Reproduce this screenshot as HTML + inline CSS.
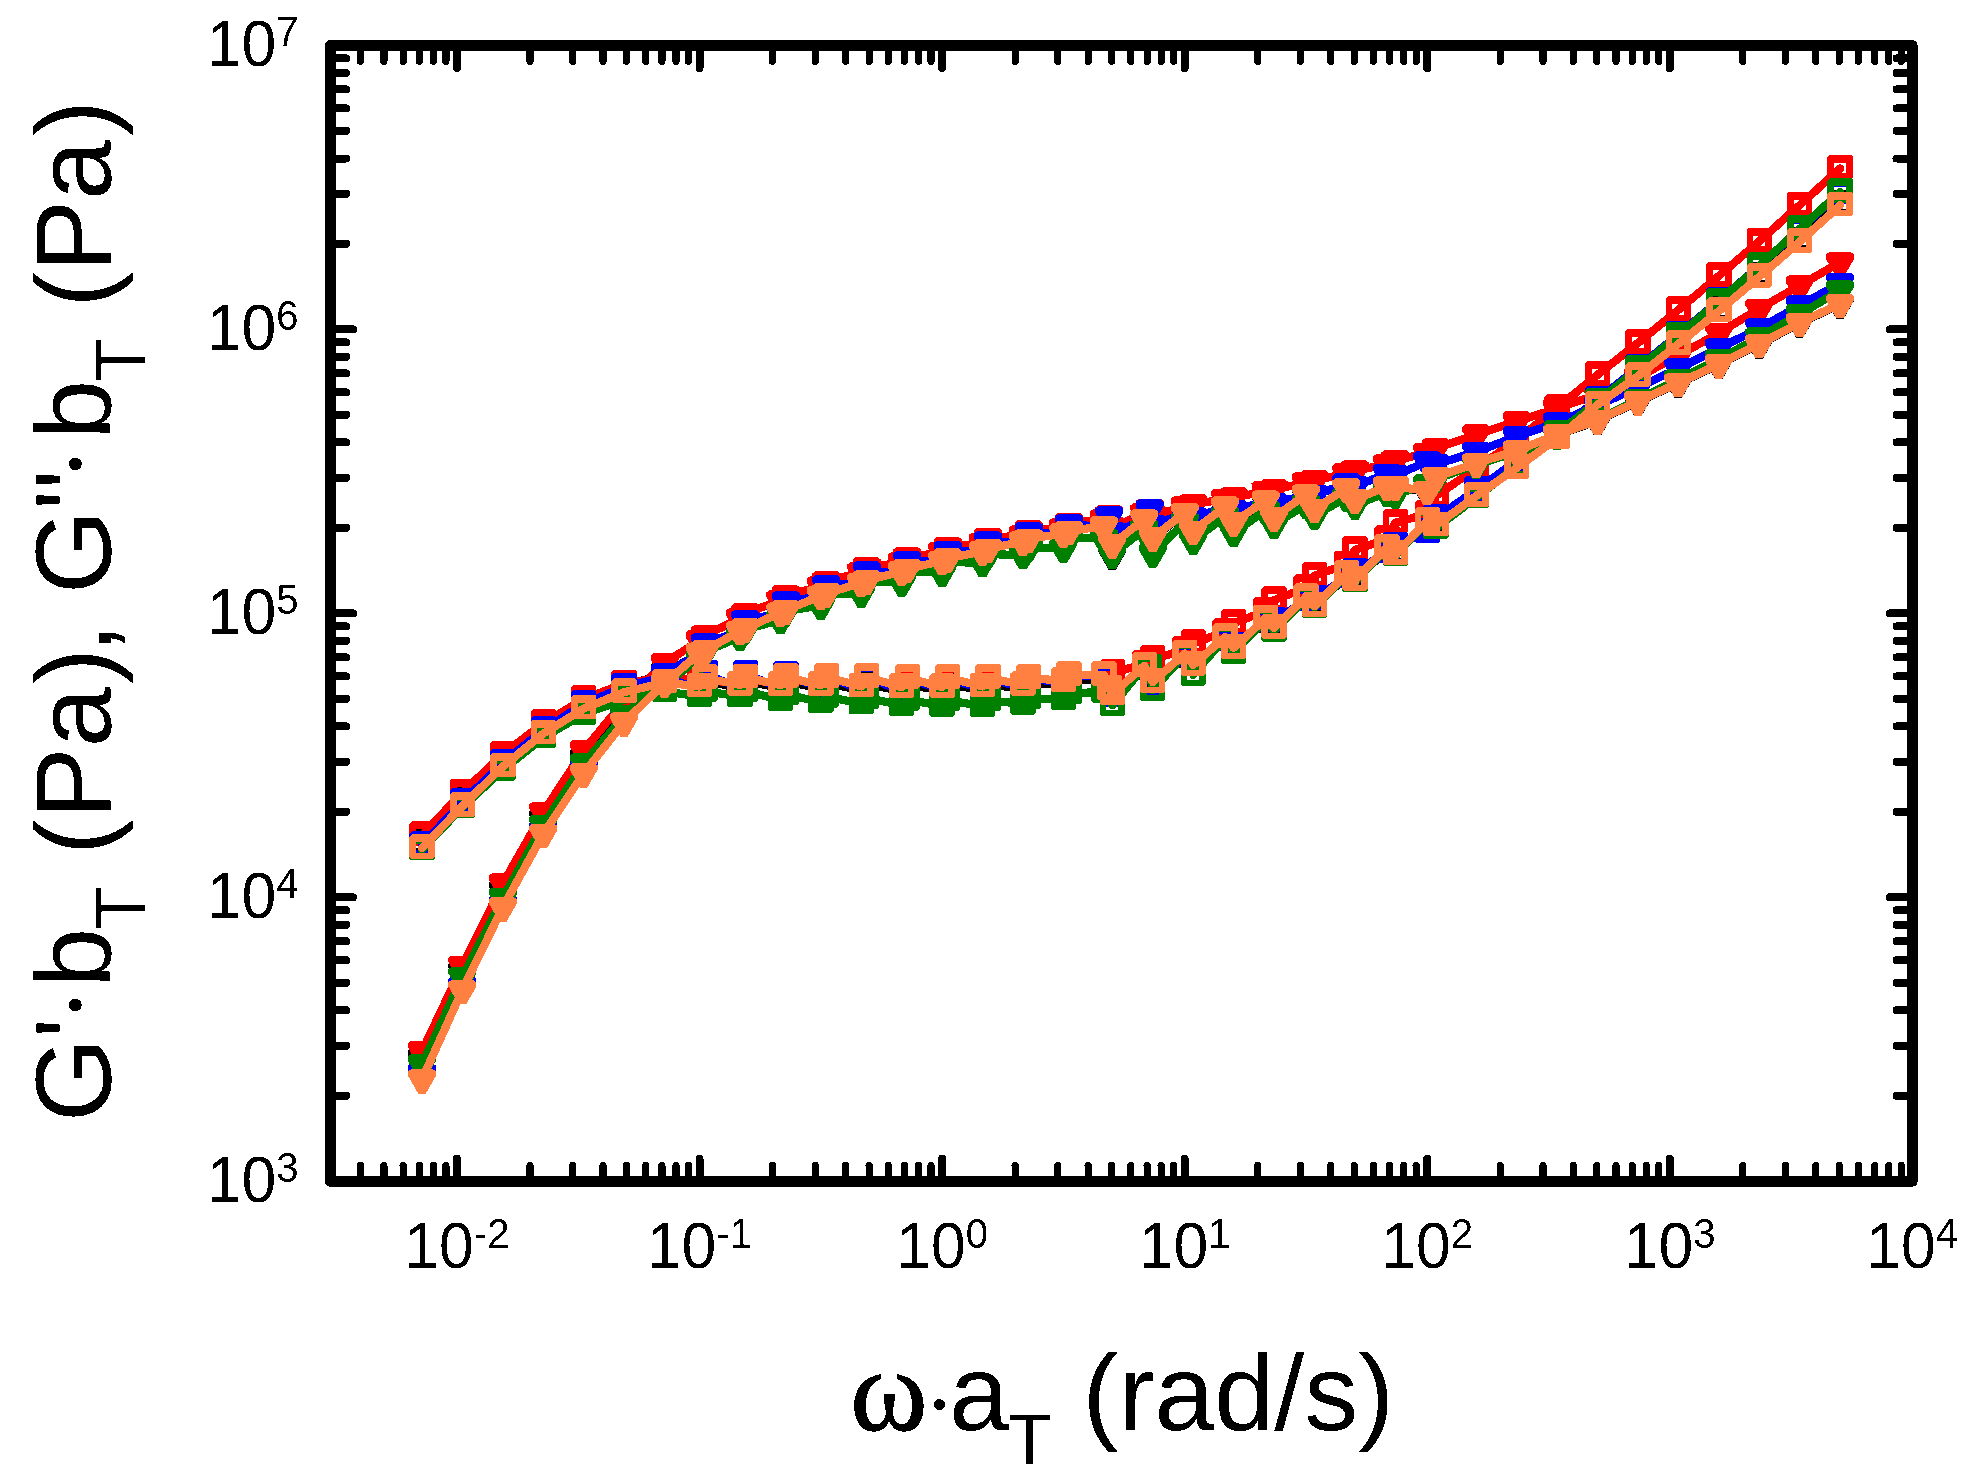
<!DOCTYPE html>
<html lang="en"><head><meta charset="utf-8"><title>Master curves</title>
<style>html,body{margin:0;padding:0;background:#fff}svg{display:block}text{font-family:"Liberation Sans",sans-serif;fill:#000}.om{font-family:"Liberation Serif",serif}</style></head><body>
<svg width="1970" height="1479" viewBox="0 0 1970 1479">
<rect width="1970" height="1479" fill="#fff"/>
<g shape-rendering="crispEdges" stroke-linejoin="round" stroke-linecap="round">
<g fill="#000000" stroke="none">
<polyline fill="none" stroke="#000000" stroke-width="8.2" points="422,843 462.4,799.9 502.9,760.8 543.3,727.9 583.7,702 624.1,684.8 664.6,675 699.5,690 705,680.4 739.9,688.5 745.4,680.4 780.4,688.5 785.9,681.5 820.8,688.6 826.3,683.5 861.2,689.9 866.7,684.5 901.7,690.7 907.2,684.5 942.1,690.7 947.6,684.5 982.5,689.9 988,684.5 1023,688.5 1028.5,684 1063.4,684.3 1068.9,681.5 1103.8,678.4 1112.3,692.7 1144.2,669.3 1152.7,680.5 1184.7,657.1 1193.2,663.4 1225.1,640.5 1233.6,646.4 1265.5,621.9 1274,626.4 1306,600.6 1314.5,604.5 1346.4,577.5 1354.9,578.3 1386.8,551.3 1395.3,552.7 1427.2,524.5 1435.8,524.1 1476.2,494.5 1516.6,466.5 1557,437 1597.5,403.3 1637.9,374.7 1678.3,342.5 1718.8,309.7 1759.2,275.3 1799.6,240.4 1840,203.8"/>
<path d="M411.9 829.2L433.1 829.2L434.7 830.8L434.7 852.2L433.1 853.8L410.9 853.8L409.3 852.2L409.3 831.8zM416.1 837.2V847.9H428V837.2zM452.3 786.1L473.5 786.1L475.1 787.7L475.1 809.1L473.5 810.7L451.3 810.7L449.7 809.1L449.7 788.7zM456.5 794.1V804.8H468.4V794.1zM492.8 747L514 747L515.6 748.6L515.6 770L514 771.6L491.8 771.6L490.2 770L490.2 749.6zM497 755V765.7H508.9V755zM533.2 714.1L554.4 714.1L556 715.7L556 737.1L554.4 738.7L532.2 738.7L530.6 737.1L530.6 716.7zM537.4 722.1V732.8H549.3V722.1zM573.6 688.2L594.8 688.2L596.4 689.8L596.4 711.2L594.8 712.8L572.6 712.8L571 711.2L571 690.8zM577.8 696.2V706.9H589.7V696.2zM614 671L635.2 671L636.9 672.6L636.9 694L635.2 695.6L613 695.6L611.4 694L611.4 673.6zM618.2 679V689.7H630.1V679zM654.5 661.2L675.7 661.2L677.3 662.8L677.3 684.2L675.7 685.8L653.5 685.8L651.9 684.2L651.9 663.8zM658.7 669.2V679.9H670.6V669.2zM689.4 676.2L710.6 676.2L712.2 677.8L712.2 699.2L710.6 700.8L688.4 700.8L686.8 699.2L686.8 678.8zM693.6 684.2V694.9H705.5V684.2zM694.9 666.6L716.1 666.6L717.7 668.2L717.7 689.6L716.1 691.2L693.9 691.2L692.3 689.6L692.3 669.2zM699.1 674.6V685.3H711V674.6zM729.8 674.7L751 674.7L752.6 676.3L752.6 697.7L751 699.3L728.8 699.3L727.2 697.7L727.2 677.3zM734 682.7V693.4H745.9V682.7zM735.3 666.6L756.5 666.6L758.1 668.2L758.1 689.6L756.5 691.2L734.3 691.2L732.7 689.6L732.7 669.2zM739.5 674.6V685.3H751.4V674.6zM770.3 674.7L791.5 674.7L793.1 676.3L793.1 697.7L791.5 699.3L769.3 699.3L767.7 697.7L767.7 677.3zM774.5 682.7V693.4H786.4V682.7zM775.8 667.7L797 667.7L798.6 669.3L798.6 690.7L797 692.3L774.8 692.3L773.2 690.7L773.2 670.3zM780 675.7V686.4H791.9V675.7zM810.7 674.8L831.9 674.8L833.5 676.4L833.5 697.8L831.9 699.4L809.7 699.4L808.1 697.8L808.1 677.4zM814.9 682.8V693.5H826.8V682.8zM816.2 669.7L837.4 669.7L839 671.3L839 692.7L837.4 694.3L815.2 694.3L813.6 692.7L813.6 672.3zM820.4 677.7V688.4H832.3V677.7zM851.1 676.1L872.3 676.1L873.9 677.7L873.9 699.1L872.3 700.7L850.1 700.7L848.5 699.1L848.5 678.7zM855.3 684.1V694.8H867.2V684.1zM856.6 670.7L877.8 670.7L879.4 672.3L879.4 693.7L877.8 695.3L855.6 695.3L854 693.7L854 673.3zM860.8 678.7V689.4H872.7V678.7zM891.6 676.9L912.8 676.9L914.4 678.5L914.4 699.9L912.8 701.5L890.6 701.5L889 699.9L889 679.5zM895.8 684.9V695.6H907.7V684.9zM897.1 670.7L918.3 670.7L919.9 672.3L919.9 693.7L918.3 695.3L896.1 695.3L894.5 693.7L894.5 673.3zM901.3 678.7V689.4H913.2V678.7zM932 676.9L953.2 676.9L954.8 678.5L954.8 699.9L953.2 701.5L931 701.5L929.4 699.9L929.4 679.5zM936.2 684.9V695.6H948.1V684.9zM937.5 670.7L958.7 670.7L960.3 672.3L960.3 693.7L958.7 695.3L936.5 695.3L934.9 693.7L934.9 673.3zM941.7 678.7V689.4H953.6V678.7zM972.4 676.1L993.6 676.1L995.2 677.7L995.2 699.1L993.6 700.7L971.4 700.7L969.8 699.1L969.8 678.7zM976.6 684.1V694.8H988.5V684.1zM977.9 670.7L999.1 670.7L1000.7 672.3L1000.7 693.7L999.1 695.3L976.9 695.3L975.3 693.7L975.3 673.3zM982.1 678.7V689.4H994V678.7zM1012.9 674.7L1034.1 674.7L1035.7 676.3L1035.7 697.7L1034.1 699.3L1011.9 699.3L1010.2 697.7L1010.2 677.3zM1017 682.7V693.4H1029V682.7zM1018.4 670.2L1039.6 670.2L1041.2 671.8L1041.2 693.2L1039.6 694.8L1017.4 694.8L1015.8 693.2L1015.8 672.8zM1022.5 678.2V688.9H1034.5V678.2zM1053.3 670.5L1074.5 670.5L1076.1 672.1L1076.1 693.5L1074.5 695.1L1052.3 695.1L1050.7 693.5L1050.7 673.1zM1057.5 678.5V689.2H1069.4V678.5zM1058.8 667.7L1080 667.7L1081.6 669.3L1081.6 690.7L1080 692.3L1057.8 692.3L1056.2 690.7L1056.2 670.3zM1063 675.7V686.4H1074.9V675.7zM1093.7 664.6L1114.9 664.6L1116.5 666.2L1116.5 687.6L1114.9 689.2L1092.7 689.2L1091.1 687.6L1091.1 667.2zM1097.9 672.6V683.3H1109.8V672.6zM1102.2 678.9L1123.4 678.9L1125 680.5L1125 701.9L1123.4 703.5L1101.2 703.5L1099.6 701.9L1099.6 681.5zM1106.4 686.9V697.6H1118.3V686.9zM1134.1 655.5L1155.3 655.5L1156.9 657.1L1156.9 678.5L1155.3 680.1L1133.1 680.1L1131.5 678.5L1131.5 658.1zM1138.3 663.5V674.2H1150.2V663.5zM1142.6 666.7L1163.8 666.7L1165.4 668.3L1165.4 689.7L1163.8 691.3L1141.6 691.3L1140 689.7L1140 669.3zM1146.8 674.7V685.4H1158.7V674.7zM1174.6 643.3L1195.8 643.3L1197.4 644.9L1197.4 666.3L1195.8 667.9L1173.6 667.9L1172 666.3L1172 645.9zM1178.8 651.3V662H1190.7V651.3zM1183.1 649.6L1204.3 649.6L1205.9 651.2L1205.9 672.6L1204.3 674.2L1182.1 674.2L1180.5 672.6L1180.5 652.2zM1187.3 657.6V668.3H1199.2V657.6zM1215 626.7L1236.2 626.7L1237.8 628.3L1237.8 649.7L1236.2 651.3L1214 651.3L1212.4 649.7L1212.4 629.3zM1219.2 634.7V645.4H1231.1V634.7zM1223.5 632.6L1244.7 632.6L1246.3 634.2L1246.3 655.6L1244.7 657.2L1222.5 657.2L1220.9 655.6L1220.9 635.2zM1227.7 640.6V651.3H1239.6V640.6zM1255.4 608.1L1276.6 608.1L1278.2 609.7L1278.2 631.1L1276.6 632.7L1254.4 632.7L1252.8 631.1L1252.8 610.7zM1259.6 616.1V626.8H1271.5V616.1zM1263.9 612.6L1285.1 612.6L1286.7 614.2L1286.7 635.6L1285.1 637.2L1262.9 637.2L1261.3 635.6L1261.3 615.2zM1268.1 620.6V631.3H1280V620.6zM1295.9 586.8L1317.1 586.8L1318.7 588.4L1318.7 609.8L1317.1 611.4L1294.9 611.4L1293.3 609.8L1293.3 589.4zM1300.1 594.8V605.5H1312V594.8zM1304.4 590.7L1325.6 590.7L1327.2 592.3L1327.2 613.7L1325.6 615.3L1303.4 615.3L1301.8 613.7L1301.8 593.3zM1308.6 598.7V609.4H1320.5V598.7zM1336.3 563.7L1357.5 563.7L1359.1 565.3L1359.1 586.7L1357.5 588.3L1335.3 588.3L1333.7 586.7L1333.7 566.3zM1340.5 571.7V582.4H1352.4V571.7zM1344.8 564.5L1366 564.5L1367.6 566.1L1367.6 587.5L1366 589.1L1343.8 589.1L1342.2 587.5L1342.2 567.1zM1349 572.5V583.2H1360.9V572.5zM1376.7 537.5L1397.9 537.5L1399.5 539.1L1399.5 560.5L1397.9 562.1L1375.7 562.1L1374.1 560.5L1374.1 540.1zM1380.9 545.5V556.2H1392.8V545.5zM1385.2 538.9L1406.4 538.9L1408 540.5L1408 561.9L1406.4 563.5L1384.2 563.5L1382.6 561.9L1382.6 541.5zM1389.4 546.9V557.6H1401.3V546.9zM1417.1 510.7L1438.4 510.7L1440 512.3L1440 533.7L1438.4 535.3L1416.1 535.3L1414.5 533.7L1414.5 513.3zM1421.3 518.7V529.4H1433.2V518.7zM1425.6 510.3L1446.9 510.3L1448.5 511.9L1448.5 533.3L1446.9 534.9L1424.6 534.9L1423 533.3L1423 512.9zM1429.8 518.3V529H1441.8V518.3zM1466.1 480.7L1487.3 480.7L1488.9 482.3L1488.9 503.7L1487.3 505.3L1465.1 505.3L1463.5 503.7L1463.5 483.3zM1470.3 488.7V499.4H1482.2V488.7zM1506.5 452.7L1527.7 452.7L1529.3 454.3L1529.3 475.7L1527.7 477.3L1505.5 477.3L1503.9 475.7L1503.9 455.3zM1510.7 460.7V471.4H1522.6V460.7zM1546.9 423.2L1568.1 423.2L1569.7 424.8L1569.7 446.2L1568.1 447.8L1545.9 447.8L1544.3 446.2L1544.3 425.8zM1551.1 431.2V441.9H1563V431.2zM1587.4 389.5L1608.6 389.5L1610.2 391.1L1610.2 412.5L1608.6 414.1L1586.4 414.1L1584.8 412.5L1584.8 392.1zM1591.6 397.5V408.2H1603.5V397.5zM1627.8 360.9L1649 360.9L1650.6 362.5L1650.6 383.9L1649 385.5L1626.8 385.5L1625.2 383.9L1625.2 363.5zM1632 368.9V379.6H1643.9V368.9zM1668.2 328.7L1689.4 328.7L1691 330.3L1691 351.7L1689.4 353.3L1667.2 353.3L1665.6 351.7L1665.6 331.3zM1672.4 336.7V347.4H1684.3V336.7zM1708.7 295.9L1729.9 295.9L1731.5 297.5L1731.5 318.9L1729.9 320.5L1707.7 320.5L1706.1 318.9L1706.1 298.5zM1712.9 303.9V314.6H1724.8V303.9zM1749.1 261.5L1770.3 261.5L1771.9 263.1L1771.9 284.5L1770.3 286.1L1748.1 286.1L1746.5 284.5L1746.5 264.1zM1753.3 269.5V280.2H1765.2V269.5zM1789.5 226.6L1810.7 226.6L1812.3 228.2L1812.3 249.6L1810.7 251.2L1788.5 251.2L1786.9 249.6L1786.9 229.2zM1793.7 234.6V245.3H1805.6V234.6zM1829.9 190L1851.2 190L1852.8 191.6L1852.8 213L1851.2 214.6L1828.9 214.6L1827.3 213L1827.3 192.6zM1834.1 198V208.7H1846V198z"/>
<polyline fill="none" stroke="#000000" stroke-width="8.2" points="422,1058.5 462.4,971.9 502.9,890.5 543.3,819.5 583.7,758.7 624.1,708.5 664.6,672.5 699.5,654.1 705,647.5 739.9,632 745.4,624.5 780.4,613.7 785.9,606.5 820.8,596.9 826.3,590.5 861.2,584 866.7,577.5 901.7,572.4 907.2,566.5 942.1,562 947.6,556.5 982.5,552.3 988,546.5 1023,542.5 1028.5,537.5 1063.4,534.5 1068.9,529.5 1103.8,527.2 1112.3,555.4 1144.2,520.5 1152.7,538 1184.7,513.8 1193.2,531.3 1225.1,507.7 1233.6,522.8 1265.5,501.6 1274,517.9 1306,495.5 1314.5,509.4 1346.4,489.4 1354.9,500.2 1386.8,487.5 1395.3,486.8 1427.2,492.1 1435.8,477.3 1476.2,463.8 1516.6,451.1 1557,435.2 1597.5,421 1637.9,401.7 1678.3,383.6 1718.8,364.7 1759.2,344.6 1799.6,323.3 1840,304.4"/>
<path d="M411.3 1048.2L432.7 1048.2L436 1050.6L436 1054.9L425.7 1072.8L418.3 1072.8L408 1054.9L408 1050.6zM451.7 961.6L473.1 961.6L476.4 964L476.4 968.3L466.1 986.2L458.7 986.2L448.4 968.3L448.4 964zM492.2 880.2L513.6 880.2L516.9 882.6L516.9 886.9L506.6 904.8L499.2 904.8L488.9 886.9L488.9 882.6zM532.6 809.2L554 809.2L557.3 811.6L557.3 815.9L547 833.8L539.6 833.8L529.3 815.9L529.3 811.6zM573 748.4L594.4 748.4L597.7 750.8L597.7 755.1L587.4 773L580 773L569.7 755.1L569.7 750.8zM613.4 698.2L634.9 698.2L638.1 700.6L638.1 704.9L627.9 722.8L620.4 722.8L610.1 704.9L610.1 700.6zM653.9 662.2L675.3 662.2L678.6 664.6L678.6 668.9L668.3 686.8L660.9 686.8L650.6 668.9L650.6 664.6zM688.8 643.8L710.2 643.8L713.5 646.2L713.5 650.5L703.2 668.4L695.8 668.4L685.5 650.5L685.5 646.2zM694.3 637.2L715.7 637.2L719 639.6L719 643.9L708.7 661.8L701.3 661.8L691 643.9L691 639.6zM729.2 621.7L750.6 621.7L753.9 624.1L753.9 628.4L743.6 646.3L736.2 646.3L725.9 628.4L725.9 624.1zM734.7 614.2L756.1 614.2L759.4 616.6L759.4 620.9L749.1 638.8L741.7 638.8L731.4 620.9L731.4 616.6zM769.7 603.4L791.1 603.4L794.4 605.8L794.4 610.1L784.1 628L776.7 628L766.4 610.1L766.4 605.8zM775.2 596.2L796.6 596.2L799.9 598.6L799.9 602.9L789.6 620.8L782.2 620.8L771.9 602.9L771.9 598.6zM810.1 586.6L831.5 586.6L834.8 589L834.8 593.3L824.5 611.2L817.1 611.2L806.8 593.3L806.8 589zM815.6 580.2L837 580.2L840.3 582.6L840.3 586.9L830 604.8L822.6 604.8L812.3 586.9L812.3 582.6zM850.5 573.7L871.9 573.7L875.2 576.1L875.2 580.4L864.9 598.3L857.5 598.3L847.2 580.4L847.2 576.1zM856 567.2L877.4 567.2L880.7 569.6L880.7 573.9L870.4 591.8L863 591.8L852.7 573.9L852.7 569.6zM891 562.1L912.4 562.1L915.7 564.5L915.7 568.8L905.4 586.7L898 586.7L887.7 568.8L887.7 564.5zM896.5 556.2L917.9 556.2L921.2 558.6L921.2 562.9L910.9 580.8L903.5 580.8L893.2 562.9L893.2 558.6zM931.4 551.7L952.8 551.7L956.1 554.1L956.1 558.4L945.8 576.3L938.4 576.3L928.1 558.4L928.1 554.1zM936.9 546.2L958.3 546.2L961.6 548.6L961.6 552.9L951.3 570.8L943.9 570.8L933.6 552.9L933.6 548.6zM971.8 542L993.2 542L996.5 544.4L996.5 548.7L986.2 566.6L978.8 566.6L968.5 548.7L968.5 544.4zM977.3 536.2L998.7 536.2L1002 538.6L1002 542.9L991.7 560.8L984.3 560.8L974 542.9L974 538.6zM1012.2 532.2L1033.7 532.2L1037 534.6L1037 538.9L1026.7 556.8L1019.2 556.8L1009 538.9L1009 534.6zM1017.8 527.2L1039.2 527.2L1042.5 529.6L1042.5 533.9L1032.2 551.8L1024.8 551.8L1014.5 533.9L1014.5 529.6zM1052.7 524.2L1074.1 524.2L1077.4 526.6L1077.4 530.9L1067.1 548.8L1059.7 548.8L1049.4 530.9L1049.4 526.6zM1058.2 519.2L1079.6 519.2L1082.9 521.6L1082.9 525.9L1072.6 543.8L1065.2 543.8L1054.9 525.9L1054.9 521.6zM1093.1 516.9L1114.5 516.9L1117.8 519.3L1117.8 523.6L1107.5 541.5L1100.1 541.5L1089.8 523.6L1089.8 519.3zM1101.6 545.1L1123 545.1L1126.3 547.5L1126.3 551.8L1116 569.7L1108.6 569.7L1098.3 551.8L1098.3 547.5zM1133.5 510.2L1154.9 510.2L1158.2 512.6L1158.2 516.9L1147.9 534.8L1140.5 534.8L1130.2 516.9L1130.2 512.6zM1142 527.7L1163.4 527.7L1166.7 530.1L1166.7 534.4L1156.4 552.3L1149 552.3L1138.7 534.4L1138.7 530.1zM1174 503.5L1195.4 503.5L1198.7 505.9L1198.7 510.2L1188.4 528.1L1181 528.1L1170.7 510.2L1170.7 505.9zM1182.5 521L1203.9 521L1207.2 523.4L1207.2 527.7L1196.9 545.6L1189.5 545.6L1179.2 527.7L1179.2 523.4zM1214.4 497.4L1235.8 497.4L1239.1 499.8L1239.1 504.1L1228.8 522L1221.4 522L1211.1 504.1L1211.1 499.8zM1222.9 512.5L1244.3 512.5L1247.6 514.9L1247.6 519.2L1237.3 537.1L1229.9 537.1L1219.6 519.2L1219.6 514.9zM1254.8 491.3L1276.2 491.3L1279.5 493.7L1279.5 498L1269.2 515.9L1261.8 515.9L1251.5 498L1251.5 493.7zM1263.3 507.6L1284.7 507.6L1288 510L1288 514.3L1277.7 532.2L1270.3 532.2L1260 514.3L1260 510zM1295.3 485.2L1316.7 485.2L1320 487.6L1320 491.9L1309.7 509.8L1302.3 509.8L1292 491.9L1292 487.6zM1303.8 499.1L1325.2 499.1L1328.5 501.5L1328.5 505.8L1318.2 523.7L1310.8 523.7L1300.5 505.8L1300.5 501.5zM1335.7 479.1L1357.1 479.1L1360.4 481.5L1360.4 485.8L1350.1 503.7L1342.7 503.7L1332.4 485.8L1332.4 481.5zM1344.2 489.9L1365.6 489.9L1368.9 492.3L1368.9 496.6L1358.6 514.5L1351.2 514.5L1340.9 496.6L1340.9 492.3zM1376.1 477.2L1397.5 477.2L1400.8 479.6L1400.8 483.9L1390.5 501.8L1383.1 501.8L1372.8 483.9L1372.8 479.6zM1384.6 476.5L1406 476.5L1409.3 478.9L1409.3 483.2L1399 501.1L1391.6 501.1L1381.3 483.2L1381.3 478.9zM1416.5 481.8L1438 481.8L1441.2 484.2L1441.2 488.5L1431 506.4L1423.5 506.4L1413.2 488.5L1413.2 484.2zM1425 467L1446.5 467L1449.8 469.4L1449.8 473.7L1439.5 491.6L1432 491.6L1421.8 473.7L1421.8 469.4zM1465.5 453.5L1486.9 453.5L1490.2 455.9L1490.2 460.2L1479.9 478.1L1472.5 478.1L1462.2 460.2L1462.2 455.9zM1505.9 440.8L1527.3 440.8L1530.6 443.2L1530.6 447.5L1520.3 465.4L1512.9 465.4L1502.6 447.5L1502.6 443.2zM1546.3 424.9L1567.7 424.9L1571 427.3L1571 431.6L1560.7 449.5L1553.3 449.5L1543 431.6L1543 427.3zM1586.8 410.7L1608.2 410.7L1611.5 413.1L1611.5 417.4L1601.2 435.3L1593.8 435.3L1583.5 417.4L1583.5 413.1zM1627.2 391.4L1648.6 391.4L1651.9 393.8L1651.9 398.1L1641.6 416L1634.2 416L1623.9 398.1L1623.9 393.8zM1667.6 373.3L1689 373.3L1692.3 375.7L1692.3 380L1682 397.9L1674.6 397.9L1664.3 380L1664.3 375.7zM1708.1 354.4L1729.5 354.4L1732.8 356.8L1732.8 361.1L1722.5 379L1715.1 379L1704.8 361.1L1704.8 356.8zM1748.5 334.3L1769.9 334.3L1773.2 336.7L1773.2 341L1762.9 358.9L1755.5 358.9L1745.2 341L1745.2 336.7zM1788.9 313L1810.3 313L1813.6 315.4L1813.6 319.7L1803.3 337.6L1795.9 337.6L1785.6 319.7L1785.6 315.4zM1829.3 294.1L1850.8 294.1L1854 296.5L1854 300.8L1843.8 318.7L1836.3 318.7L1826 300.8L1826 296.5z"/>
</g>
<g fill="#ff0000" stroke="none">
<polyline fill="none" stroke="#ff0000" stroke-width="8.2" points="422,835 462.4,792.5 502.9,754.3 543.3,723.2 583.7,699.1 624.1,683.6 664.6,677 699.5,679.8 705,678.5 739.9,685 745.4,677.9 780.4,685 785.9,677.5 820.8,685.1 826.3,677.4 861.2,686.4 866.7,677.4 901.7,687.2 907.2,678.3 942.1,687.2 947.6,678.3 982.5,686.4 988,678.3 1023,685 1028.5,678.5 1063.4,680.8 1068.9,675.4 1103.8,675.5 1112.3,673.1 1144.2,664 1152.7,659.1 1184.7,650 1193.2,643.2 1225.1,632 1233.6,623.2 1265.5,611.1 1274,600.1 1306,588 1314.5,575.8 1346.4,564.3 1354.9,550 1386.8,539.2 1395.3,522.8 1427.2,513.8 1435.8,496 1476.2,468.5 1516.6,440 1557,408 1597.5,374.9 1637.9,343 1678.3,310 1718.8,276 1759.2,241.3 1799.6,205.3 1840,168.5"/>
<path d="M411.9 821.2L433.1 821.2L434.7 822.8L434.7 844.2L433.1 845.8L410.9 845.8L409.3 844.2L409.3 823.8zM416.1 829.2V839.9H428V829.2zM452.3 778.7L473.5 778.7L475.1 780.3L475.1 801.7L473.5 803.3L451.3 803.3L449.7 801.7L449.7 781.3zM456.5 786.7V797.4H468.4V786.7zM492.8 740.5L514 740.5L515.6 742.1L515.6 763.5L514 765.1L491.8 765.1L490.2 763.5L490.2 743.1zM497 748.5V759.2H508.9V748.5zM533.2 709.4L554.4 709.4L556 711L556 732.4L554.4 734L532.2 734L530.6 732.4L530.6 712zM537.4 717.4V728.1H549.3V717.4zM573.6 685.3L594.8 685.3L596.4 686.9L596.4 708.3L594.8 709.9L572.6 709.9L571 708.3L571 687.9zM577.8 693.3V704H589.7V693.3zM614 669.8L635.2 669.8L636.9 671.4L636.9 692.8L635.2 694.4L613 694.4L611.4 692.8L611.4 672.4zM618.2 677.8V688.5H630.1V677.8zM654.5 663.2L675.7 663.2L677.3 664.8L677.3 686.2L675.7 687.8L653.5 687.8L651.9 686.2L651.9 665.8zM658.7 671.2V681.9H670.6V671.2zM689.4 666L710.6 666L712.2 667.6L712.2 689L710.6 690.6L688.4 690.6L686.8 689L686.8 668.6zM693.6 674V684.7H705.5V674zM694.9 664.7L716.1 664.7L717.7 666.3L717.7 687.7L716.1 689.3L693.9 689.3L692.3 687.7L692.3 667.3zM699.1 672.7V683.4H711V672.7zM729.8 671.2L751 671.2L752.6 672.8L752.6 694.2L751 695.8L728.8 695.8L727.2 694.2L727.2 673.8zM734 679.2V689.9H745.9V679.2zM735.3 664.1L756.5 664.1L758.1 665.7L758.1 687.1L756.5 688.7L734.3 688.7L732.7 687.1L732.7 666.7zM739.5 672.1V682.8H751.4V672.1zM770.3 671.2L791.5 671.2L793.1 672.8L793.1 694.2L791.5 695.8L769.3 695.8L767.7 694.2L767.7 673.8zM774.5 679.2V689.9H786.4V679.2zM775.8 663.7L797 663.7L798.6 665.3L798.6 686.7L797 688.3L774.8 688.3L773.2 686.7L773.2 666.3zM780 671.7V682.4H791.9V671.7zM810.7 671.3L831.9 671.3L833.5 672.9L833.5 694.3L831.9 695.9L809.7 695.9L808.1 694.3L808.1 673.9zM814.9 679.3V690H826.8V679.3zM816.2 663.6L837.4 663.6L839 665.2L839 686.6L837.4 688.2L815.2 688.2L813.6 686.6L813.6 666.2zM820.4 671.6V682.3H832.3V671.6zM851.1 672.6L872.3 672.6L873.9 674.2L873.9 695.6L872.3 697.2L850.1 697.2L848.5 695.6L848.5 675.2zM855.3 680.6V691.3H867.2V680.6zM856.6 663.6L877.8 663.6L879.4 665.2L879.4 686.6L877.8 688.2L855.6 688.2L854 686.6L854 666.2zM860.8 671.6V682.3H872.7V671.6zM891.6 673.4L912.8 673.4L914.4 675L914.4 696.4L912.8 698L890.6 698L889 696.4L889 676zM895.8 681.4V692.1H907.7V681.4zM897.1 664.5L918.3 664.5L919.9 666.1L919.9 687.5L918.3 689.1L896.1 689.1L894.5 687.5L894.5 667.1zM901.3 672.5V683.2H913.2V672.5zM932 673.4L953.2 673.4L954.8 675L954.8 696.4L953.2 698L931 698L929.4 696.4L929.4 676zM936.2 681.4V692.1H948.1V681.4zM937.5 664.5L958.7 664.5L960.3 666.1L960.3 687.5L958.7 689.1L936.5 689.1L934.9 687.5L934.9 667.1zM941.7 672.5V683.2H953.6V672.5zM972.4 672.6L993.6 672.6L995.2 674.2L995.2 695.6L993.6 697.2L971.4 697.2L969.8 695.6L969.8 675.2zM976.6 680.6V691.3H988.5V680.6zM977.9 664.5L999.1 664.5L1000.7 666.1L1000.7 687.5L999.1 689.1L976.9 689.1L975.3 687.5L975.3 667.1zM982.1 672.5V683.2H994V672.5zM1012.9 671.2L1034.1 671.2L1035.7 672.8L1035.7 694.2L1034.1 695.8L1011.9 695.8L1010.2 694.2L1010.2 673.8zM1017 679.2V689.9H1029V679.2zM1018.4 664.7L1039.6 664.7L1041.2 666.3L1041.2 687.7L1039.6 689.3L1017.4 689.3L1015.8 687.7L1015.8 667.3zM1022.5 672.7V683.4H1034.5V672.7zM1053.3 667L1074.5 667L1076.1 668.6L1076.1 690L1074.5 691.6L1052.3 691.6L1050.7 690L1050.7 669.6zM1057.5 675V685.7H1069.4V675zM1058.8 661.6L1080 661.6L1081.6 663.2L1081.6 684.6L1080 686.2L1057.8 686.2L1056.2 684.6L1056.2 664.2zM1063 669.6V680.3H1074.9V669.6zM1093.7 661.7L1114.9 661.7L1116.5 663.3L1116.5 684.7L1114.9 686.3L1092.7 686.3L1091.1 684.7L1091.1 664.3zM1097.9 669.7V680.4H1109.8V669.7zM1102.2 659.3L1123.4 659.3L1125 660.9L1125 682.3L1123.4 683.9L1101.2 683.9L1099.6 682.3L1099.6 661.9zM1106.4 667.3V678H1118.3V667.3zM1134.1 650.2L1155.3 650.2L1156.9 651.8L1156.9 673.2L1155.3 674.8L1133.1 674.8L1131.5 673.2L1131.5 652.8zM1138.3 658.2V668.9H1150.2V658.2zM1142.6 645.3L1163.8 645.3L1165.4 646.9L1165.4 668.3L1163.8 669.9L1141.6 669.9L1140 668.3L1140 647.9zM1146.8 653.3V664H1158.7V653.3zM1174.6 636.2L1195.8 636.2L1197.4 637.8L1197.4 659.2L1195.8 660.8L1173.6 660.8L1172 659.2L1172 638.8zM1178.8 644.2V654.9H1190.7V644.2zM1183.1 629.4L1204.3 629.4L1205.9 631L1205.9 652.4L1204.3 654L1182.1 654L1180.5 652.4L1180.5 632zM1187.3 637.4V648.1H1199.2V637.4zM1215 618.2L1236.2 618.2L1237.8 619.8L1237.8 641.2L1236.2 642.8L1214 642.8L1212.4 641.2L1212.4 620.8zM1219.2 626.2V636.9H1231.1V626.2zM1223.5 609.4L1244.7 609.4L1246.3 611L1246.3 632.4L1244.7 634L1222.5 634L1220.9 632.4L1220.9 612zM1227.7 617.4V628.1H1239.6V617.4zM1255.4 597.3L1276.6 597.3L1278.2 598.9L1278.2 620.3L1276.6 621.9L1254.4 621.9L1252.8 620.3L1252.8 599.9zM1259.6 605.3V616H1271.5V605.3zM1263.9 586.3L1285.1 586.3L1286.7 587.9L1286.7 609.3L1285.1 610.9L1262.9 610.9L1261.3 609.3L1261.3 588.9zM1268.1 594.3V605H1280V594.3zM1295.9 574.2L1317.1 574.2L1318.7 575.8L1318.7 597.2L1317.1 598.8L1294.9 598.8L1293.3 597.2L1293.3 576.8zM1300.1 582.2V592.9H1312V582.2zM1304.4 562L1325.6 562L1327.2 563.6L1327.2 585L1325.6 586.6L1303.4 586.6L1301.8 585L1301.8 564.6zM1308.6 570V580.7H1320.5V570zM1336.3 550.5L1357.5 550.5L1359.1 552.1L1359.1 573.5L1357.5 575.1L1335.3 575.1L1333.7 573.5L1333.7 553.1zM1340.5 558.5V569.2H1352.4V558.5zM1344.8 536.2L1366 536.2L1367.6 537.8L1367.6 559.2L1366 560.8L1343.8 560.8L1342.2 559.2L1342.2 538.8zM1349 544.2V554.9H1360.9V544.2zM1376.7 525.4L1397.9 525.4L1399.5 527L1399.5 548.4L1397.9 550L1375.7 550L1374.1 548.4L1374.1 528zM1380.9 533.4V544.1H1392.8V533.4zM1385.2 509L1406.4 509L1408 510.6L1408 532L1406.4 533.6L1384.2 533.6L1382.6 532L1382.6 511.6zM1389.4 517V527.7H1401.3V517zM1417.1 500L1438.4 500L1440 501.6L1440 523L1438.4 524.6L1416.1 524.6L1414.5 523L1414.5 502.6zM1421.3 508V518.7H1433.2V508zM1425.6 482.2L1446.9 482.2L1448.5 483.8L1448.5 505.2L1446.9 506.8L1424.6 506.8L1423 505.2L1423 484.8zM1429.8 490.2V500.9H1441.8V490.2zM1466.1 454.7L1487.3 454.7L1488.9 456.3L1488.9 477.7L1487.3 479.3L1465.1 479.3L1463.5 477.7L1463.5 457.3zM1470.3 462.7V473.4H1482.2V462.7zM1506.5 426.2L1527.7 426.2L1529.3 427.8L1529.3 449.2L1527.7 450.8L1505.5 450.8L1503.9 449.2L1503.9 428.8zM1510.7 434.2V444.9H1522.6V434.2zM1546.9 394.2L1568.1 394.2L1569.7 395.8L1569.7 417.2L1568.1 418.8L1545.9 418.8L1544.3 417.2L1544.3 396.8zM1551.1 402.2V412.9H1563V402.2zM1587.4 361.1L1608.6 361.1L1610.2 362.7L1610.2 384.1L1608.6 385.7L1586.4 385.7L1584.8 384.1L1584.8 363.7zM1591.6 369.1V379.8H1603.5V369.1zM1627.8 329.2L1649 329.2L1650.6 330.8L1650.6 352.2L1649 353.8L1626.8 353.8L1625.2 352.2L1625.2 331.8zM1632 337.2V347.9H1643.9V337.2zM1668.2 296.2L1689.4 296.2L1691 297.8L1691 319.2L1689.4 320.8L1667.2 320.8L1665.6 319.2L1665.6 298.8zM1672.4 304.2V314.9H1684.3V304.2zM1708.7 262.2L1729.9 262.2L1731.5 263.8L1731.5 285.2L1729.9 286.8L1707.7 286.8L1706.1 285.2L1706.1 264.8zM1712.9 270.2V280.9H1724.8V270.2zM1749.1 227.5L1770.3 227.5L1771.9 229.1L1771.9 250.5L1770.3 252.1L1748.1 252.1L1746.5 250.5L1746.5 230.1zM1753.3 235.5V246.2H1765.2V235.5zM1789.5 191.5L1810.7 191.5L1812.3 193.1L1812.3 214.5L1810.7 216.1L1788.5 216.1L1786.9 214.5L1786.9 194.1zM1793.7 199.5V210.2H1805.6V199.5zM1829.9 154.7L1851.2 154.7L1852.8 156.3L1852.8 177.7L1851.2 179.3L1828.9 179.3L1827.3 177.7L1827.3 157.3zM1834.1 162.7V173.4H1846V162.7z"/>
<polyline fill="none" stroke="#ff0000" stroke-width="8.2" points="422,1051.2 462.4,965.9 502.9,883.5 543.3,812.1 583.7,750.2 624.1,701.5 664.6,663.1 699.5,640.5 705,635.5 739.9,618.5 745.4,613.5 780.4,600.3 785.9,595.3 820.8,586.4 826.3,581.4 861.2,572.4 866.7,567.4 901.7,562.6 907.2,557.6 942.1,552.1 947.6,547.1 982.5,543 988,538 1023,535.5 1028.5,530.5 1063.4,528.1 1068.9,523.1 1103.8,519.5 1109.3,515.5 1112.3,527.5 1144.2,513.4 1149.7,509 1152.7,515.5 1184.7,506.7 1193.2,504.3 1225.1,499 1233.6,497.6 1265.5,491.4 1274,489.6 1306,482.5 1314.5,480.5 1346.4,473.5 1354.9,470.5 1386.8,464.6 1395.3,460.4 1427.2,453 1435.8,448.5 1476.2,434.7 1516.6,421.5 1557,408.5 1597.5,394.5 1637.9,377.5 1678.3,355.5 1718.8,333.1 1759.2,308.8 1799.6,285.6 1840,262.5"/>
<path d="M411.3 1040.9L432.7 1040.9L436 1043.3L436 1047.6L425.7 1065.5L418.3 1065.5L408 1047.6L408 1043.3zM451.7 955.6L473.1 955.6L476.4 958L476.4 962.3L466.1 980.2L458.7 980.2L448.4 962.3L448.4 958zM492.2 873.2L513.6 873.2L516.9 875.6L516.9 879.9L506.6 897.8L499.2 897.8L488.9 879.9L488.9 875.6zM532.6 801.8L554 801.8L557.3 804.2L557.3 808.5L547 826.4L539.6 826.4L529.3 808.5L529.3 804.2zM573 739.9L594.4 739.9L597.7 742.3L597.7 746.6L587.4 764.5L580 764.5L569.7 746.6L569.7 742.3zM613.4 691.2L634.9 691.2L638.1 693.6L638.1 697.9L627.9 715.8L620.4 715.8L610.1 697.9L610.1 693.6zM653.9 652.8L675.3 652.8L678.6 655.2L678.6 659.5L668.3 677.4L660.9 677.4L650.6 659.5L650.6 655.2zM688.8 630.2L710.2 630.2L713.5 632.6L713.5 636.9L703.2 654.8L695.8 654.8L685.5 636.9L685.5 632.6zM694.3 625.2L715.7 625.2L719 627.6L719 631.9L708.7 649.8L701.3 649.8L691 631.9L691 627.6zM729.2 608.2L750.6 608.2L753.9 610.6L753.9 614.9L743.6 632.8L736.2 632.8L725.9 614.9L725.9 610.6zM734.7 603.2L756.1 603.2L759.4 605.6L759.4 609.9L749.1 627.8L741.7 627.8L731.4 609.9L731.4 605.6zM769.7 590L791.1 590L794.4 592.4L794.4 596.7L784.1 614.6L776.7 614.6L766.4 596.7L766.4 592.4zM775.2 585L796.6 585L799.9 587.4L799.9 591.7L789.6 609.6L782.2 609.6L771.9 591.7L771.9 587.4zM810.1 576.1L831.5 576.1L834.8 578.5L834.8 582.8L824.5 600.7L817.1 600.7L806.8 582.8L806.8 578.5zM815.6 571.1L837 571.1L840.3 573.5L840.3 577.8L830 595.7L822.6 595.7L812.3 577.8L812.3 573.5zM850.5 562.1L871.9 562.1L875.2 564.5L875.2 568.8L864.9 586.7L857.5 586.7L847.2 568.8L847.2 564.5zM856 557.1L877.4 557.1L880.7 559.5L880.7 563.8L870.4 581.7L863 581.7L852.7 563.8L852.7 559.5zM891 552.3L912.4 552.3L915.7 554.7L915.7 559L905.4 576.9L898 576.9L887.7 559L887.7 554.7zM896.5 547.3L917.9 547.3L921.2 549.7L921.2 554L910.9 571.9L903.5 571.9L893.2 554L893.2 549.7zM931.4 541.8L952.8 541.8L956.1 544.2L956.1 548.5L945.8 566.4L938.4 566.4L928.1 548.5L928.1 544.2zM936.9 536.8L958.3 536.8L961.6 539.2L961.6 543.5L951.3 561.4L943.9 561.4L933.6 543.5L933.6 539.2zM971.8 532.7L993.2 532.7L996.5 535.1L996.5 539.4L986.2 557.3L978.8 557.3L968.5 539.4L968.5 535.1zM977.3 527.7L998.7 527.7L1002 530.1L1002 534.4L991.7 552.3L984.3 552.3L974 534.4L974 530.1zM1012.2 525.2L1033.7 525.2L1037 527.6L1037 531.9L1026.7 549.8L1019.2 549.8L1009 531.9L1009 527.6zM1017.8 520.2L1039.2 520.2L1042.5 522.6L1042.5 526.9L1032.2 544.8L1024.8 544.8L1014.5 526.9L1014.5 522.6zM1052.7 517.8L1074.1 517.8L1077.4 520.2L1077.4 524.5L1067.1 542.4L1059.7 542.4L1049.4 524.5L1049.4 520.2zM1058.2 512.8L1079.6 512.8L1082.9 515.2L1082.9 519.5L1072.6 537.4L1065.2 537.4L1054.9 519.5L1054.9 515.2zM1093.1 509.2L1114.5 509.2L1117.8 511.6L1117.8 515.9L1107.5 533.8L1100.1 533.8L1089.8 515.9L1089.8 511.6zM1098.6 505.2L1120 505.2L1123.3 507.6L1123.3 511.9L1113 529.8L1105.6 529.8L1095.3 511.9L1095.3 507.6zM1101.6 517.2L1123 517.2L1126.3 519.6L1126.3 523.9L1116 541.8L1108.6 541.8L1098.3 523.9L1098.3 519.6zM1133.5 503.1L1154.9 503.1L1158.2 505.5L1158.2 509.8L1147.9 527.7L1140.5 527.7L1130.2 509.8L1130.2 505.5zM1139 498.7L1160.4 498.7L1163.7 501.1L1163.7 505.4L1153.4 523.3L1146 523.3L1135.7 505.4L1135.7 501.1zM1142 505.2L1163.4 505.2L1166.7 507.6L1166.7 511.9L1156.4 529.8L1149 529.8L1138.7 511.9L1138.7 507.6zM1174 496.4L1195.4 496.4L1198.7 498.8L1198.7 503.1L1188.4 521L1181 521L1170.7 503.1L1170.7 498.8zM1182.5 494L1203.9 494L1207.2 496.4L1207.2 500.7L1196.9 518.6L1189.5 518.6L1179.2 500.7L1179.2 496.4zM1214.4 488.7L1235.8 488.7L1239.1 491.1L1239.1 495.4L1228.8 513.3L1221.4 513.3L1211.1 495.4L1211.1 491.1zM1222.9 487.3L1244.3 487.3L1247.6 489.7L1247.6 494L1237.3 511.9L1229.9 511.9L1219.6 494L1219.6 489.7zM1254.8 481.1L1276.2 481.1L1279.5 483.5L1279.5 487.8L1269.2 505.7L1261.8 505.7L1251.5 487.8L1251.5 483.5zM1263.3 479.3L1284.7 479.3L1288 481.7L1288 486L1277.7 503.9L1270.3 503.9L1260 486L1260 481.7zM1295.3 472.2L1316.7 472.2L1320 474.6L1320 478.9L1309.7 496.8L1302.3 496.8L1292 478.9L1292 474.6zM1303.8 470.2L1325.2 470.2L1328.5 472.6L1328.5 476.9L1318.2 494.8L1310.8 494.8L1300.5 476.9L1300.5 472.6zM1335.7 463.2L1357.1 463.2L1360.4 465.6L1360.4 469.9L1350.1 487.8L1342.7 487.8L1332.4 469.9L1332.4 465.6zM1344.2 460.2L1365.6 460.2L1368.9 462.6L1368.9 466.9L1358.6 484.8L1351.2 484.8L1340.9 466.9L1340.9 462.6zM1376.1 454.3L1397.5 454.3L1400.8 456.7L1400.8 461L1390.5 478.9L1383.1 478.9L1372.8 461L1372.8 456.7zM1384.6 450.1L1406 450.1L1409.3 452.5L1409.3 456.8L1399 474.7L1391.6 474.7L1381.3 456.8L1381.3 452.5zM1416.5 442.7L1438 442.7L1441.2 445.1L1441.2 449.4L1431 467.3L1423.5 467.3L1413.2 449.4L1413.2 445.1zM1425 438.2L1446.5 438.2L1449.8 440.6L1449.8 444.9L1439.5 462.8L1432 462.8L1421.8 444.9L1421.8 440.6zM1465.5 424.4L1486.9 424.4L1490.2 426.8L1490.2 431.1L1479.9 449L1472.5 449L1462.2 431.1L1462.2 426.8zM1505.9 411.2L1527.3 411.2L1530.6 413.6L1530.6 417.9L1520.3 435.8L1512.9 435.8L1502.6 417.9L1502.6 413.6zM1546.3 398.2L1567.7 398.2L1571 400.6L1571 404.9L1560.7 422.8L1553.3 422.8L1543 404.9L1543 400.6zM1586.8 384.2L1608.2 384.2L1611.5 386.6L1611.5 390.9L1601.2 408.8L1593.8 408.8L1583.5 390.9L1583.5 386.6zM1627.2 367.2L1648.6 367.2L1651.9 369.6L1651.9 373.9L1641.6 391.8L1634.2 391.8L1623.9 373.9L1623.9 369.6zM1667.6 345.2L1689 345.2L1692.3 347.6L1692.3 351.9L1682 369.8L1674.6 369.8L1664.3 351.9L1664.3 347.6zM1708.1 322.8L1729.5 322.8L1732.8 325.2L1732.8 329.5L1722.5 347.4L1715.1 347.4L1704.8 329.5L1704.8 325.2zM1748.5 298.5L1769.9 298.5L1773.2 300.9L1773.2 305.2L1762.9 323.1L1755.5 323.1L1745.2 305.2L1745.2 300.9zM1788.9 275.3L1810.3 275.3L1813.6 277.7L1813.6 282L1803.3 299.9L1795.9 299.9L1785.6 282L1785.6 277.7zM1829.3 252.2L1850.8 252.2L1854 254.6L1854 258.9L1843.8 276.8L1836.3 276.8L1826 258.9L1826 254.6z"/>
</g>
<g fill="#0000ff" stroke="none">
<polyline fill="none" stroke="#0000ff" stroke-width="8.2" points="422,845 462.4,801.9 502.9,762.8 543.3,729.9 583.7,704 624.1,686.8 664.6,677 699.5,689.5 705,673.9 739.9,688 745.4,673.9 780.4,688 785.9,675 820.8,688.1 826.3,677 861.2,689.4 866.7,678 901.7,690.2 907.2,678 942.1,690.2 947.6,678 982.5,689.4 988,678 1023,688 1028.5,677.5 1063.4,683.8 1068.9,675 1103.8,677 1112.3,696 1144.2,668 1152.7,686.9 1184.7,656 1193.2,665 1225.1,640 1233.6,646 1265.5,621 1274,621 1306,600 1314.5,599 1346.4,577 1354.9,572 1386.8,552 1395.3,545.5 1427.2,532.1 1435.8,518 1476.2,490 1516.6,461 1557,431 1597.5,399.8 1637.9,367.7 1678.3,334.5 1718.8,301 1759.2,266 1799.6,229.5 1840,193"/>
<path d="M411.9 831.2L433.1 831.2L434.7 832.8L434.7 854.2L433.1 855.8L410.9 855.8L409.3 854.2L409.3 833.8zM416.1 839.2V849.9H428V839.2zM452.3 788.1L473.5 788.1L475.1 789.7L475.1 811.1L473.5 812.7L451.3 812.7L449.7 811.1L449.7 790.7zM456.5 796.1V806.8H468.4V796.1zM492.8 749L514 749L515.6 750.6L515.6 772L514 773.6L491.8 773.6L490.2 772L490.2 751.6zM497 757V767.7H508.9V757zM533.2 716.1L554.4 716.1L556 717.7L556 739.1L554.4 740.7L532.2 740.7L530.6 739.1L530.6 718.7zM537.4 724.1V734.8H549.3V724.1zM573.6 690.2L594.8 690.2L596.4 691.8L596.4 713.2L594.8 714.8L572.6 714.8L571 713.2L571 692.8zM577.8 698.2V708.9H589.7V698.2zM614 673L635.2 673L636.9 674.6L636.9 696L635.2 697.6L613 697.6L611.4 696L611.4 675.6zM618.2 681V691.7H630.1V681zM654.5 663.2L675.7 663.2L677.3 664.8L677.3 686.2L675.7 687.8L653.5 687.8L651.9 686.2L651.9 665.8zM658.7 671.2V681.9H670.6V671.2zM689.4 675.7L710.6 675.7L712.2 677.3L712.2 698.7L710.6 700.3L688.4 700.3L686.8 698.7L686.8 678.3zM693.6 683.7V694.4H705.5V683.7zM694.9 660.1L716.1 660.1L717.7 661.7L717.7 683.1L716.1 684.7L693.9 684.7L692.3 683.1L692.3 662.7zM699.1 668.1V678.8H711V668.1zM729.8 674.2L751 674.2L752.6 675.8L752.6 697.2L751 698.8L728.8 698.8L727.2 697.2L727.2 676.8zM734 682.2V692.9H745.9V682.2zM735.3 660.1L756.5 660.1L758.1 661.7L758.1 683.1L756.5 684.7L734.3 684.7L732.7 683.1L732.7 662.7zM739.5 668.1V678.8H751.4V668.1zM770.3 674.2L791.5 674.2L793.1 675.8L793.1 697.2L791.5 698.8L769.3 698.8L767.7 697.2L767.7 676.8zM774.5 682.2V692.9H786.4V682.2zM775.8 661.2L797 661.2L798.6 662.8L798.6 684.2L797 685.8L774.8 685.8L773.2 684.2L773.2 663.8zM780 669.2V679.9H791.9V669.2zM810.7 674.3L831.9 674.3L833.5 675.9L833.5 697.3L831.9 698.9L809.7 698.9L808.1 697.3L808.1 676.9zM814.9 682.3V693H826.8V682.3zM816.2 663.2L837.4 663.2L839 664.8L839 686.2L837.4 687.8L815.2 687.8L813.6 686.2L813.6 665.8zM820.4 671.2V681.9H832.3V671.2zM851.1 675.6L872.3 675.6L873.9 677.2L873.9 698.6L872.3 700.2L850.1 700.2L848.5 698.6L848.5 678.2zM855.3 683.6V694.3H867.2V683.6zM856.6 664.2L877.8 664.2L879.4 665.8L879.4 687.2L877.8 688.8L855.6 688.8L854 687.2L854 666.8zM860.8 672.2V682.9H872.7V672.2zM891.6 676.4L912.8 676.4L914.4 678L914.4 699.4L912.8 701L890.6 701L889 699.4L889 679zM895.8 684.4V695.1H907.7V684.4zM897.1 664.2L918.3 664.2L919.9 665.8L919.9 687.2L918.3 688.8L896.1 688.8L894.5 687.2L894.5 666.8zM901.3 672.2V682.9H913.2V672.2zM932 676.4L953.2 676.4L954.8 678L954.8 699.4L953.2 701L931 701L929.4 699.4L929.4 679zM936.2 684.4V695.1H948.1V684.4zM937.5 664.2L958.7 664.2L960.3 665.8L960.3 687.2L958.7 688.8L936.5 688.8L934.9 687.2L934.9 666.8zM941.7 672.2V682.9H953.6V672.2zM972.4 675.6L993.6 675.6L995.2 677.2L995.2 698.6L993.6 700.2L971.4 700.2L969.8 698.6L969.8 678.2zM976.6 683.6V694.3H988.5V683.6zM977.9 664.2L999.1 664.2L1000.7 665.8L1000.7 687.2L999.1 688.8L976.9 688.8L975.3 687.2L975.3 666.8zM982.1 672.2V682.9H994V672.2zM1012.9 674.2L1034.1 674.2L1035.7 675.8L1035.7 697.2L1034.1 698.8L1011.9 698.8L1010.2 697.2L1010.2 676.8zM1017 682.2V692.9H1029V682.2zM1018.4 663.7L1039.6 663.7L1041.2 665.3L1041.2 686.7L1039.6 688.3L1017.4 688.3L1015.8 686.7L1015.8 666.3zM1022.5 671.7V682.4H1034.5V671.7zM1053.3 670L1074.5 670L1076.1 671.6L1076.1 693L1074.5 694.6L1052.3 694.6L1050.7 693L1050.7 672.6zM1057.5 678V688.7H1069.4V678zM1058.8 661.2L1080 661.2L1081.6 662.8L1081.6 684.2L1080 685.8L1057.8 685.8L1056.2 684.2L1056.2 663.8zM1063 669.2V679.9H1074.9V669.2zM1093.7 663.2L1114.9 663.2L1116.5 664.8L1116.5 686.2L1114.9 687.8L1092.7 687.8L1091.1 686.2L1091.1 665.8zM1097.9 671.2V681.9H1109.8V671.2zM1102.2 682.2L1123.4 682.2L1125 683.8L1125 705.2L1123.4 706.8L1101.2 706.8L1099.6 705.2L1099.6 684.8zM1106.4 690.2V700.9H1118.3V690.2zM1134.1 654.2L1155.3 654.2L1156.9 655.8L1156.9 677.2L1155.3 678.8L1133.1 678.8L1131.5 677.2L1131.5 656.8zM1138.3 662.2V672.9H1150.2V662.2zM1142.6 673.1L1163.8 673.1L1165.4 674.7L1165.4 696.1L1163.8 697.7L1141.6 697.7L1140 696.1L1140 675.7zM1146.8 681.1V691.8H1158.7V681.1zM1174.6 642.2L1195.8 642.2L1197.4 643.8L1197.4 665.2L1195.8 666.8L1173.6 666.8L1172 665.2L1172 644.8zM1178.8 650.2V660.9H1190.7V650.2zM1183.1 651.2L1204.3 651.2L1205.9 652.8L1205.9 674.2L1204.3 675.8L1182.1 675.8L1180.5 674.2L1180.5 653.8zM1187.3 659.2V669.9H1199.2V659.2zM1215 626.2L1236.2 626.2L1237.8 627.8L1237.8 649.2L1236.2 650.8L1214 650.8L1212.4 649.2L1212.4 628.8zM1219.2 634.2V644.9H1231.1V634.2zM1223.5 632.2L1244.7 632.2L1246.3 633.8L1246.3 655.2L1244.7 656.8L1222.5 656.8L1220.9 655.2L1220.9 634.8zM1227.7 640.2V650.9H1239.6V640.2zM1255.4 607.2L1276.6 607.2L1278.2 608.8L1278.2 630.2L1276.6 631.8L1254.4 631.8L1252.8 630.2L1252.8 609.8zM1259.6 615.2V625.9H1271.5V615.2zM1263.9 607.2L1285.1 607.2L1286.7 608.8L1286.7 630.2L1285.1 631.8L1262.9 631.8L1261.3 630.2L1261.3 609.8zM1268.1 615.2V625.9H1280V615.2zM1295.9 586.2L1317.1 586.2L1318.7 587.8L1318.7 609.2L1317.1 610.8L1294.9 610.8L1293.3 609.2L1293.3 588.8zM1300.1 594.2V604.9H1312V594.2zM1304.4 585.2L1325.6 585.2L1327.2 586.8L1327.2 608.2L1325.6 609.8L1303.4 609.8L1301.8 608.2L1301.8 587.8zM1308.6 593.2V603.9H1320.5V593.2zM1336.3 563.2L1357.5 563.2L1359.1 564.8L1359.1 586.2L1357.5 587.8L1335.3 587.8L1333.7 586.2L1333.7 565.8zM1340.5 571.2V581.9H1352.4V571.2zM1344.8 558.2L1366 558.2L1367.6 559.8L1367.6 581.2L1366 582.8L1343.8 582.8L1342.2 581.2L1342.2 560.8zM1349 566.2V576.9H1360.9V566.2zM1376.7 538.2L1397.9 538.2L1399.5 539.8L1399.5 561.2L1397.9 562.8L1375.7 562.8L1374.1 561.2L1374.1 540.8zM1380.9 546.2V556.9H1392.8V546.2zM1385.2 531.7L1406.4 531.7L1408 533.3L1408 554.7L1406.4 556.3L1384.2 556.3L1382.6 554.7L1382.6 534.3zM1389.4 539.7V550.4H1401.3V539.7zM1417.1 518.3L1438.4 518.3L1440 519.9L1440 541.3L1438.4 542.9L1416.1 542.9L1414.5 541.3L1414.5 520.9zM1421.3 526.3V537H1433.2V526.3zM1425.6 504.2L1446.9 504.2L1448.5 505.8L1448.5 527.2L1446.9 528.8L1424.6 528.8L1423 527.2L1423 506.8zM1429.8 512.2V522.9H1441.8V512.2zM1466.1 476.2L1487.3 476.2L1488.9 477.8L1488.9 499.2L1487.3 500.8L1465.1 500.8L1463.5 499.2L1463.5 478.8zM1470.3 484.2V494.9H1482.2V484.2zM1506.5 447.2L1527.7 447.2L1529.3 448.8L1529.3 470.2L1527.7 471.8L1505.5 471.8L1503.9 470.2L1503.9 449.8zM1510.7 455.2V465.9H1522.6V455.2zM1546.9 417.2L1568.1 417.2L1569.7 418.8L1569.7 440.2L1568.1 441.8L1545.9 441.8L1544.3 440.2L1544.3 419.8zM1551.1 425.2V435.9H1563V425.2zM1587.4 386L1608.6 386L1610.2 387.6L1610.2 409L1608.6 410.6L1586.4 410.6L1584.8 409L1584.8 388.6zM1591.6 394V404.7H1603.5V394zM1627.8 353.9L1649 353.9L1650.6 355.5L1650.6 376.9L1649 378.5L1626.8 378.5L1625.2 376.9L1625.2 356.5zM1632 361.9V372.6H1643.9V361.9zM1668.2 320.7L1689.4 320.7L1691 322.3L1691 343.7L1689.4 345.3L1667.2 345.3L1665.6 343.7L1665.6 323.3zM1672.4 328.7V339.4H1684.3V328.7zM1708.7 287.2L1729.9 287.2L1731.5 288.8L1731.5 310.2L1729.9 311.8L1707.7 311.8L1706.1 310.2L1706.1 289.8zM1712.9 295.2V305.9H1724.8V295.2zM1749.1 252.2L1770.3 252.2L1771.9 253.8L1771.9 275.2L1770.3 276.8L1748.1 276.8L1746.5 275.2L1746.5 254.8zM1753.3 260.2V270.9H1765.2V260.2zM1789.5 215.7L1810.7 215.7L1812.3 217.3L1812.3 238.7L1810.7 240.3L1788.5 240.3L1786.9 238.7L1786.9 218.3zM1793.7 223.7V234.4H1805.6V223.7zM1829.9 179.2L1851.2 179.2L1852.8 180.8L1852.8 202.2L1851.2 203.8L1828.9 203.8L1827.3 202.2L1827.3 181.8zM1834.1 187.2V197.9H1846V187.2z"/>
<polyline fill="none" stroke="#0000ff" stroke-width="8.2" points="422,1073.5 462.4,986.5 502.9,904.9 543.3,831.5 583.7,769.5 624.1,718.5 664.6,673.7 699.5,653.6 705,643.4 739.9,631.5 745.4,620.2 780.4,613.2 785.9,601.4 820.8,596.4 826.3,585.3 861.2,583.5 866.7,571.6 901.7,571.9 907.2,561.3 942.1,561.5 947.6,550.9 982.5,551.8 988,541.5 1023,542 1028.5,532.3 1063.4,534 1068.9,524.4 1103.8,526.7 1109.3,516.4 1112.3,532.5 1144.2,520 1149.7,509.7 1152.7,525.5 1184.7,513.3 1193.2,517.5 1225.1,507.2 1233.6,510.5 1265.5,501.1 1274,503.5 1306,495 1314.5,495.5 1346.4,483.5 1354.9,486.5 1386.8,473.8 1395.3,475.5 1427.2,461.6 1435.8,464.5 1476.2,451.8 1516.6,436.5 1557,422.5 1597.5,405.5 1637.9,387.5 1678.3,368.5 1718.8,348.4 1759.2,328.3 1799.6,305.7 1840,283.2"/>
<path d="M411.3 1063.2L432.7 1063.2L436 1065.6L436 1069.9L425.7 1087.8L418.3 1087.8L408 1069.9L408 1065.6zM451.7 976.2L473.1 976.2L476.4 978.6L476.4 982.9L466.1 1000.8L458.7 1000.8L448.4 982.9L448.4 978.6zM492.2 894.6L513.6 894.6L516.9 897L516.9 901.3L506.6 919.2L499.2 919.2L488.9 901.3L488.9 897zM532.6 821.2L554 821.2L557.3 823.6L557.3 827.9L547 845.8L539.6 845.8L529.3 827.9L529.3 823.6zM573 759.2L594.4 759.2L597.7 761.6L597.7 765.9L587.4 783.8L580 783.8L569.7 765.9L569.7 761.6zM613.4 708.2L634.9 708.2L638.1 710.6L638.1 714.9L627.9 732.8L620.4 732.8L610.1 714.9L610.1 710.6zM653.9 663.4L675.3 663.4L678.6 665.8L678.6 670.1L668.3 688L660.9 688L650.6 670.1L650.6 665.8zM688.8 643.3L710.2 643.3L713.5 645.7L713.5 650L703.2 667.9L695.8 667.9L685.5 650L685.5 645.7zM694.3 633.1L715.7 633.1L719 635.5L719 639.8L708.7 657.7L701.3 657.7L691 639.8L691 635.5zM729.2 621.2L750.6 621.2L753.9 623.6L753.9 627.9L743.6 645.8L736.2 645.8L725.9 627.9L725.9 623.6zM734.7 609.9L756.1 609.9L759.4 612.3L759.4 616.6L749.1 634.5L741.7 634.5L731.4 616.6L731.4 612.3zM769.7 602.9L791.1 602.9L794.4 605.3L794.4 609.6L784.1 627.5L776.7 627.5L766.4 609.6L766.4 605.3zM775.2 591.1L796.6 591.1L799.9 593.5L799.9 597.8L789.6 615.7L782.2 615.7L771.9 597.8L771.9 593.5zM810.1 586.1L831.5 586.1L834.8 588.5L834.8 592.8L824.5 610.7L817.1 610.7L806.8 592.8L806.8 588.5zM815.6 575L837 575L840.3 577.4L840.3 581.7L830 599.6L822.6 599.6L812.3 581.7L812.3 577.4zM850.5 573.2L871.9 573.2L875.2 575.6L875.2 579.9L864.9 597.8L857.5 597.8L847.2 579.9L847.2 575.6zM856 561.3L877.4 561.3L880.7 563.7L880.7 568L870.4 585.9L863 585.9L852.7 568L852.7 563.7zM891 561.6L912.4 561.6L915.7 564L915.7 568.3L905.4 586.2L898 586.2L887.7 568.3L887.7 564zM896.5 551L917.9 551L921.2 553.4L921.2 557.7L910.9 575.6L903.5 575.6L893.2 557.7L893.2 553.4zM931.4 551.2L952.8 551.2L956.1 553.6L956.1 557.9L945.8 575.8L938.4 575.8L928.1 557.9L928.1 553.6zM936.9 540.6L958.3 540.6L961.6 543L961.6 547.3L951.3 565.2L943.9 565.2L933.6 547.3L933.6 543zM971.8 541.5L993.2 541.5L996.5 543.9L996.5 548.2L986.2 566.1L978.8 566.1L968.5 548.2L968.5 543.9zM977.3 531.2L998.7 531.2L1002 533.6L1002 537.9L991.7 555.8L984.3 555.8L974 537.9L974 533.6zM1012.2 531.7L1033.7 531.7L1037 534.1L1037 538.4L1026.7 556.3L1019.2 556.3L1009 538.4L1009 534.1zM1017.8 522L1039.2 522L1042.5 524.4L1042.5 528.7L1032.2 546.6L1024.8 546.6L1014.5 528.7L1014.5 524.4zM1052.7 523.7L1074.1 523.7L1077.4 526.1L1077.4 530.4L1067.1 548.3L1059.7 548.3L1049.4 530.4L1049.4 526.1zM1058.2 514.1L1079.6 514.1L1082.9 516.5L1082.9 520.8L1072.6 538.7L1065.2 538.7L1054.9 520.8L1054.9 516.5zM1093.1 516.4L1114.5 516.4L1117.8 518.8L1117.8 523.1L1107.5 541L1100.1 541L1089.8 523.1L1089.8 518.8zM1098.6 506.1L1120 506.1L1123.3 508.5L1123.3 512.8L1113 530.7L1105.6 530.7L1095.3 512.8L1095.3 508.5zM1101.6 522.2L1123 522.2L1126.3 524.6L1126.3 528.9L1116 546.8L1108.6 546.8L1098.3 528.9L1098.3 524.6zM1133.5 509.7L1154.9 509.7L1158.2 512.1L1158.2 516.4L1147.9 534.3L1140.5 534.3L1130.2 516.4L1130.2 512.1zM1139 499.4L1160.4 499.4L1163.7 501.8L1163.7 506.1L1153.4 524L1146 524L1135.7 506.1L1135.7 501.8zM1142 515.2L1163.4 515.2L1166.7 517.6L1166.7 521.9L1156.4 539.8L1149 539.8L1138.7 521.9L1138.7 517.6zM1174 503L1195.4 503L1198.7 505.4L1198.7 509.7L1188.4 527.6L1181 527.6L1170.7 509.7L1170.7 505.4zM1182.5 507.2L1203.9 507.2L1207.2 509.6L1207.2 513.9L1196.9 531.8L1189.5 531.8L1179.2 513.9L1179.2 509.6zM1214.4 496.9L1235.8 496.9L1239.1 499.3L1239.1 503.6L1228.8 521.5L1221.4 521.5L1211.1 503.6L1211.1 499.3zM1222.9 500.2L1244.3 500.2L1247.6 502.6L1247.6 506.9L1237.3 524.8L1229.9 524.8L1219.6 506.9L1219.6 502.6zM1254.8 490.8L1276.2 490.8L1279.5 493.2L1279.5 497.5L1269.2 515.4L1261.8 515.4L1251.5 497.5L1251.5 493.2zM1263.3 493.2L1284.7 493.2L1288 495.6L1288 499.9L1277.7 517.8L1270.3 517.8L1260 499.9L1260 495.6zM1295.3 484.7L1316.7 484.7L1320 487.1L1320 491.4L1309.7 509.3L1302.3 509.3L1292 491.4L1292 487.1zM1303.8 485.2L1325.2 485.2L1328.5 487.6L1328.5 491.9L1318.2 509.8L1310.8 509.8L1300.5 491.9L1300.5 487.6zM1335.7 473.2L1357.1 473.2L1360.4 475.6L1360.4 479.9L1350.1 497.8L1342.7 497.8L1332.4 479.9L1332.4 475.6zM1344.2 476.2L1365.6 476.2L1368.9 478.6L1368.9 482.9L1358.6 500.8L1351.2 500.8L1340.9 482.9L1340.9 478.6zM1376.1 463.5L1397.5 463.5L1400.8 465.9L1400.8 470.2L1390.5 488.1L1383.1 488.1L1372.8 470.2L1372.8 465.9zM1384.6 465.2L1406 465.2L1409.3 467.6L1409.3 471.9L1399 489.8L1391.6 489.8L1381.3 471.9L1381.3 467.6zM1416.5 451.3L1438 451.3L1441.2 453.7L1441.2 458L1431 475.9L1423.5 475.9L1413.2 458L1413.2 453.7zM1425 454.2L1446.5 454.2L1449.8 456.6L1449.8 460.9L1439.5 478.8L1432 478.8L1421.8 460.9L1421.8 456.6zM1465.5 441.5L1486.9 441.5L1490.2 443.9L1490.2 448.2L1479.9 466.1L1472.5 466.1L1462.2 448.2L1462.2 443.9zM1505.9 426.2L1527.3 426.2L1530.6 428.6L1530.6 432.9L1520.3 450.8L1512.9 450.8L1502.6 432.9L1502.6 428.6zM1546.3 412.2L1567.7 412.2L1571 414.6L1571 418.9L1560.7 436.8L1553.3 436.8L1543 418.9L1543 414.6zM1586.8 395.2L1608.2 395.2L1611.5 397.6L1611.5 401.9L1601.2 419.8L1593.8 419.8L1583.5 401.9L1583.5 397.6zM1627.2 377.2L1648.6 377.2L1651.9 379.6L1651.9 383.9L1641.6 401.8L1634.2 401.8L1623.9 383.9L1623.9 379.6zM1667.6 358.2L1689 358.2L1692.3 360.6L1692.3 364.9L1682 382.8L1674.6 382.8L1664.3 364.9L1664.3 360.6zM1708.1 338.1L1729.5 338.1L1732.8 340.5L1732.8 344.8L1722.5 362.7L1715.1 362.7L1704.8 344.8L1704.8 340.5zM1748.5 318L1769.9 318L1773.2 320.4L1773.2 324.7L1762.9 342.6L1755.5 342.6L1745.2 324.7L1745.2 320.4zM1788.9 295.4L1810.3 295.4L1813.6 297.8L1813.6 302.1L1803.3 320L1795.9 320L1785.6 302.1L1785.6 297.8zM1829.3 272.9L1850.8 272.9L1854 275.3L1854 279.6L1843.8 297.5L1836.3 297.5L1826 279.6L1826 275.3z"/>
</g>
<g fill="#008000" stroke="none">
<polyline fill="none" stroke="#008000" stroke-width="8.2" points="422,849.5 462.4,807.2 502.9,769.9 543.3,737.6 583.7,713.9 624.1,699.9 664.6,691.3 699.5,696.6 705,691.1 739.9,696.6 745.4,691.1 780.4,699.8 785.9,694.3 820.8,702.2 826.3,696.7 861.2,703.4 866.7,697.9 901.7,705.2 907.2,699.7 942.1,705.9 947.6,700.4 982.5,705.9 988,700.4 1023,703.9 1028.5,698.4 1063.4,699.1 1068.9,693.6 1103.8,691.7 1112.3,705.2 1144.2,666.8 1149.7,668 1152.7,689.9 1184.7,654.6 1193.2,674.7 1225.1,638 1233.6,652.8 1265.5,619.4 1274,631 1306,598.1 1314.5,607.2 1346.4,575 1354.9,581.6 1386.8,548.8 1395.3,555.4 1427.2,522 1435.8,528.2 1476.2,497.5 1516.6,466.5 1557,433.5 1597.5,401.7 1637.9,368.9 1678.3,335.4 1718.8,301.3 1759.2,266 1799.6,229.1 1840,192"/>
<path d="M411.9 835.7L433.1 835.7L434.7 837.3L434.7 858.7L433.1 860.3L410.9 860.3L409.3 858.7L409.3 838.3zM416.1 843.7V854.4H428V843.7zM452.3 793.4L473.5 793.4L475.1 795L475.1 816.4L473.5 818L451.3 818L449.7 816.4L449.7 796zM456.5 801.4V812.1H468.4V801.4zM492.8 756.1L514 756.1L515.6 757.7L515.6 779.1L514 780.7L491.8 780.7L490.2 779.1L490.2 758.7zM497 764.1V774.8H508.9V764.1zM533.2 723.8L554.4 723.8L556 725.4L556 746.8L554.4 748.4L532.2 748.4L530.6 746.8L530.6 726.4zM537.4 731.8V742.5H549.3V731.8zM573.6 700.1L594.8 700.1L596.4 701.7L596.4 723.1L594.8 724.7L572.6 724.7L571 723.1L571 702.7zM577.8 708.1V718.8H589.7V708.1zM614 686.1L635.2 686.1L636.9 687.7L636.9 709.1L635.2 710.7L613 710.7L611.4 709.1L611.4 688.7zM618.2 694.1V704.8H630.1V694.1zM654.5 677.5L675.7 677.5L677.3 679.1L677.3 700.5L675.7 702.1L653.5 702.1L651.9 700.5L651.9 680.1zM658.7 685.5V696.2H670.6V685.5zM689.4 682.8L710.6 682.8L712.2 684.4L712.2 705.8L710.6 707.4L688.4 707.4L686.8 705.8L686.8 685.4zM693.6 690.8V701.5H705.5V690.8zM694.9 677.3L716.1 677.3L717.7 678.9L717.7 700.3L716.1 701.9L693.9 701.9L692.3 700.3L692.3 679.9zM699.1 685.3V696H711V685.3zM729.8 682.8L751 682.8L752.6 684.4L752.6 705.8L751 707.4L728.8 707.4L727.2 705.8L727.2 685.4zM734 690.8V701.5H745.9V690.8zM735.3 677.3L756.5 677.3L758.1 678.9L758.1 700.3L756.5 701.9L734.3 701.9L732.7 700.3L732.7 679.9zM739.5 685.3V696H751.4V685.3zM770.3 686L791.5 686L793.1 687.6L793.1 709L791.5 710.6L769.3 710.6L767.7 709L767.7 688.6zM774.5 694V704.7H786.4V694zM775.8 680.5L797 680.5L798.6 682.1L798.6 703.5L797 705.1L774.8 705.1L773.2 703.5L773.2 683.1zM780 688.5V699.2H791.9V688.5zM810.7 688.4L831.9 688.4L833.5 690L833.5 711.4L831.9 713L809.7 713L808.1 711.4L808.1 691zM814.9 696.4V707.1H826.8V696.4zM816.2 682.9L837.4 682.9L839 684.5L839 705.9L837.4 707.5L815.2 707.5L813.6 705.9L813.6 685.5zM820.4 690.9V701.6H832.3V690.9zM851.1 689.6L872.3 689.6L873.9 691.2L873.9 712.6L872.3 714.2L850.1 714.2L848.5 712.6L848.5 692.2zM855.3 697.6V708.3H867.2V697.6zM856.6 684.1L877.8 684.1L879.4 685.7L879.4 707.1L877.8 708.7L855.6 708.7L854 707.1L854 686.7zM860.8 692.1V702.8H872.7V692.1zM891.6 691.4L912.8 691.4L914.4 693L914.4 714.4L912.8 716L890.6 716L889 714.4L889 694zM895.8 699.4V710.1H907.7V699.4zM897.1 685.9L918.3 685.9L919.9 687.5L919.9 708.9L918.3 710.5L896.1 710.5L894.5 708.9L894.5 688.5zM901.3 693.9V704.6H913.2V693.9zM932 692.1L953.2 692.1L954.8 693.7L954.8 715.1L953.2 716.7L931 716.7L929.4 715.1L929.4 694.7zM936.2 700.1V710.8H948.1V700.1zM937.5 686.6L958.7 686.6L960.3 688.2L960.3 709.6L958.7 711.2L936.5 711.2L934.9 709.6L934.9 689.2zM941.7 694.6V705.3H953.6V694.6zM972.4 692.1L993.6 692.1L995.2 693.7L995.2 715.1L993.6 716.7L971.4 716.7L969.8 715.1L969.8 694.7zM976.6 700.1V710.8H988.5V700.1zM977.9 686.6L999.1 686.6L1000.7 688.2L1000.7 709.6L999.1 711.2L976.9 711.2L975.3 709.6L975.3 689.2zM982.1 694.6V705.3H994V694.6zM1012.9 690.1L1034.1 690.1L1035.7 691.7L1035.7 713.1L1034.1 714.7L1011.9 714.7L1010.2 713.1L1010.2 692.7zM1017 698.1V708.8H1029V698.1zM1018.4 684.6L1039.6 684.6L1041.2 686.2L1041.2 707.6L1039.6 709.2L1017.4 709.2L1015.8 707.6L1015.8 687.2zM1022.5 692.6V703.3H1034.5V692.6zM1053.3 685.3L1074.5 685.3L1076.1 686.9L1076.1 708.3L1074.5 709.9L1052.3 709.9L1050.7 708.3L1050.7 687.9zM1057.5 693.3V704H1069.4V693.3zM1058.8 679.8L1080 679.8L1081.6 681.4L1081.6 702.8L1080 704.4L1057.8 704.4L1056.2 702.8L1056.2 682.4zM1063 687.8V698.5H1074.9V687.8zM1093.7 677.9L1114.9 677.9L1116.5 679.5L1116.5 700.9L1114.9 702.5L1092.7 702.5L1091.1 700.9L1091.1 680.5zM1097.9 685.9V696.6H1109.8V685.9zM1102.2 691.4L1123.4 691.4L1125 693L1125 714.4L1123.4 716L1101.2 716L1099.6 714.4L1099.6 694zM1106.4 699.4V710.1H1118.3V699.4zM1134.1 653L1155.3 653L1156.9 654.6L1156.9 676L1155.3 677.6L1133.1 677.6L1131.5 676L1131.5 655.6zM1138.3 661V671.7H1150.2V661zM1139.6 654.2L1160.8 654.2L1162.4 655.8L1162.4 677.2L1160.8 678.8L1138.6 678.8L1137 677.2L1137 656.8zM1143.8 662.2V672.9H1155.7V662.2zM1142.6 676.1L1163.8 676.1L1165.4 677.7L1165.4 699.1L1163.8 700.7L1141.6 700.7L1140 699.1L1140 678.7zM1146.8 684.1V694.8H1158.7V684.1zM1174.6 640.8L1195.8 640.8L1197.4 642.4L1197.4 663.8L1195.8 665.4L1173.6 665.4L1172 663.8L1172 643.4zM1178.8 648.8V659.5H1190.7V648.8zM1183.1 660.9L1204.3 660.9L1205.9 662.5L1205.9 683.9L1204.3 685.5L1182.1 685.5L1180.5 683.9L1180.5 663.5zM1187.3 668.9V679.6H1199.2V668.9zM1215 624.2L1236.2 624.2L1237.8 625.8L1237.8 647.2L1236.2 648.8L1214 648.8L1212.4 647.2L1212.4 626.8zM1219.2 632.2V642.9H1231.1V632.2zM1223.5 639L1244.7 639L1246.3 640.6L1246.3 662L1244.7 663.6L1222.5 663.6L1220.9 662L1220.9 641.6zM1227.7 647V657.7H1239.6V647zM1255.4 605.6L1276.6 605.6L1278.2 607.2L1278.2 628.6L1276.6 630.2L1254.4 630.2L1252.8 628.6L1252.8 608.2zM1259.6 613.6V624.3H1271.5V613.6zM1263.9 617.2L1285.1 617.2L1286.7 618.8L1286.7 640.2L1285.1 641.8L1262.9 641.8L1261.3 640.2L1261.3 619.8zM1268.1 625.2V635.9H1280V625.2zM1295.9 584.3L1317.1 584.3L1318.7 585.9L1318.7 607.3L1317.1 608.9L1294.9 608.9L1293.3 607.3L1293.3 586.9zM1300.1 592.3V603H1312V592.3zM1304.4 593.4L1325.6 593.4L1327.2 595L1327.2 616.4L1325.6 618L1303.4 618L1301.8 616.4L1301.8 596zM1308.6 601.4V612.1H1320.5V601.4zM1336.3 561.2L1357.5 561.2L1359.1 562.8L1359.1 584.2L1357.5 585.8L1335.3 585.8L1333.7 584.2L1333.7 563.8zM1340.5 569.2V579.9H1352.4V569.2zM1344.8 567.8L1366 567.8L1367.6 569.4L1367.6 590.8L1366 592.4L1343.8 592.4L1342.2 590.8L1342.2 570.4zM1349 575.8V586.5H1360.9V575.8zM1376.7 535L1397.9 535L1399.5 536.6L1399.5 558L1397.9 559.6L1375.7 559.6L1374.1 558L1374.1 537.6zM1380.9 543V553.7H1392.8V543zM1385.2 541.6L1406.4 541.6L1408 543.2L1408 564.6L1406.4 566.2L1384.2 566.2L1382.6 564.6L1382.6 544.2zM1389.4 549.6V560.3H1401.3V549.6zM1417.1 508.2L1438.4 508.2L1440 509.8L1440 531.2L1438.4 532.8L1416.1 532.8L1414.5 531.2L1414.5 510.8zM1421.3 516.2V526.9H1433.2V516.2zM1425.6 514.4L1446.9 514.4L1448.5 516L1448.5 537.4L1446.9 539L1424.6 539L1423 537.4L1423 517zM1429.8 522.4V533.1H1441.8V522.4zM1466.1 483.7L1487.3 483.7L1488.9 485.3L1488.9 506.7L1487.3 508.3L1465.1 508.3L1463.5 506.7L1463.5 486.3zM1470.3 491.7V502.4H1482.2V491.7zM1506.5 452.7L1527.7 452.7L1529.3 454.3L1529.3 475.7L1527.7 477.3L1505.5 477.3L1503.9 475.7L1503.9 455.3zM1510.7 460.7V471.4H1522.6V460.7zM1546.9 419.7L1568.1 419.7L1569.7 421.3L1569.7 442.7L1568.1 444.3L1545.9 444.3L1544.3 442.7L1544.3 422.3zM1551.1 427.7V438.4H1563V427.7zM1587.4 387.9L1608.6 387.9L1610.2 389.5L1610.2 410.9L1608.6 412.5L1586.4 412.5L1584.8 410.9L1584.8 390.5zM1591.6 395.9V406.6H1603.5V395.9zM1627.8 355.1L1649 355.1L1650.6 356.7L1650.6 378.1L1649 379.7L1626.8 379.7L1625.2 378.1L1625.2 357.7zM1632 363.1V373.8H1643.9V363.1zM1668.2 321.6L1689.4 321.6L1691 323.2L1691 344.6L1689.4 346.2L1667.2 346.2L1665.6 344.6L1665.6 324.2zM1672.4 329.6V340.3H1684.3V329.6zM1708.7 287.5L1729.9 287.5L1731.5 289.1L1731.5 310.5L1729.9 312.1L1707.7 312.1L1706.1 310.5L1706.1 290.1zM1712.9 295.5V306.2H1724.8V295.5zM1749.1 252.2L1770.3 252.2L1771.9 253.8L1771.9 275.2L1770.3 276.8L1748.1 276.8L1746.5 275.2L1746.5 254.8zM1753.3 260.2V270.9H1765.2V260.2zM1789.5 215.3L1810.7 215.3L1812.3 216.9L1812.3 238.3L1810.7 239.9L1788.5 239.9L1786.9 238.3L1786.9 217.9zM1793.7 223.3V234H1805.6V223.3zM1829.9 178.2L1851.2 178.2L1852.8 179.8L1852.8 201.2L1851.2 202.8L1828.9 202.8L1827.3 201.2L1827.3 180.8zM1834.1 186.2V196.9H1846V186.2z"/>
<polyline fill="none" stroke="#008000" stroke-width="8.2" points="422,1064.5 462.4,977.1 502.9,897.8 543.3,824.9 583.7,763.6 624.1,716 664.6,684.2 699.5,658.5 705,651.6 739.9,637.1 745.4,629.5 780.4,620 785.9,611.2 820.8,605.5 826.3,594.4 861.2,593.3 866.7,581.5 901.7,582.4 907.2,571.6 942.1,572.6 947.6,561.9 982.5,562.9 988,554.1 1023,555.1 1028.5,547.5 1063.4,548.5 1068.9,537.5 1103.8,538.5 1112.3,554.4 1144.2,529.5 1152.7,553.4 1184.7,522.5 1193.2,540.6 1225.1,516.5 1233.6,532.7 1265.5,510.5 1274,524.7 1306,504.5 1314.5,515.6 1346.4,497.5 1354.9,505.2 1386.8,492.5 1395.3,494.2 1427.2,484.7 1435.8,479 1476.2,465 1516.6,452 1557,435.3 1597.5,420 1637.9,399.5 1678.3,379.4 1718.8,359.3 1759.2,337.4 1799.6,314.3 1840,290.5"/>
<path d="M411.3 1054.2L432.7 1054.2L436 1056.6L436 1060.9L425.7 1078.8L418.3 1078.8L408 1060.9L408 1056.6zM451.7 966.8L473.1 966.8L476.4 969.2L476.4 973.5L466.1 991.4L458.7 991.4L448.4 973.5L448.4 969.2zM492.2 887.5L513.6 887.5L516.9 889.9L516.9 894.2L506.6 912.1L499.2 912.1L488.9 894.2L488.9 889.9zM532.6 814.6L554 814.6L557.3 817L557.3 821.3L547 839.2L539.6 839.2L529.3 821.3L529.3 817zM573 753.3L594.4 753.3L597.7 755.7L597.7 760L587.4 777.9L580 777.9L569.7 760L569.7 755.7zM613.4 705.7L634.9 705.7L638.1 708.1L638.1 712.4L627.9 730.3L620.4 730.3L610.1 712.4L610.1 708.1zM653.9 673.9L675.3 673.9L678.6 676.3L678.6 680.6L668.3 698.5L660.9 698.5L650.6 680.6L650.6 676.3zM688.8 648.2L710.2 648.2L713.5 650.6L713.5 654.9L703.2 672.8L695.8 672.8L685.5 654.9L685.5 650.6zM694.3 641.3L715.7 641.3L719 643.7L719 648L708.7 665.9L701.3 665.9L691 648L691 643.7zM729.2 626.8L750.6 626.8L753.9 629.2L753.9 633.5L743.6 651.4L736.2 651.4L725.9 633.5L725.9 629.2zM734.7 619.2L756.1 619.2L759.4 621.6L759.4 625.9L749.1 643.8L741.7 643.8L731.4 625.9L731.4 621.6zM769.7 609.7L791.1 609.7L794.4 612.1L794.4 616.4L784.1 634.3L776.7 634.3L766.4 616.4L766.4 612.1zM775.2 600.9L796.6 600.9L799.9 603.3L799.9 607.6L789.6 625.5L782.2 625.5L771.9 607.6L771.9 603.3zM810.1 595.2L831.5 595.2L834.8 597.6L834.8 601.9L824.5 619.8L817.1 619.8L806.8 601.9L806.8 597.6zM815.6 584.1L837 584.1L840.3 586.5L840.3 590.8L830 608.7L822.6 608.7L812.3 590.8L812.3 586.5zM850.5 583L871.9 583L875.2 585.4L875.2 589.7L864.9 607.6L857.5 607.6L847.2 589.7L847.2 585.4zM856 571.2L877.4 571.2L880.7 573.6L880.7 577.9L870.4 595.8L863 595.8L852.7 577.9L852.7 573.6zM891 572.1L912.4 572.1L915.7 574.5L915.7 578.8L905.4 596.7L898 596.7L887.7 578.8L887.7 574.5zM896.5 561.3L917.9 561.3L921.2 563.7L921.2 568L910.9 585.9L903.5 585.9L893.2 568L893.2 563.7zM931.4 562.3L952.8 562.3L956.1 564.7L956.1 569L945.8 586.9L938.4 586.9L928.1 569L928.1 564.7zM936.9 551.6L958.3 551.6L961.6 554L961.6 558.3L951.3 576.2L943.9 576.2L933.6 558.3L933.6 554zM971.8 552.6L993.2 552.6L996.5 555L996.5 559.3L986.2 577.2L978.8 577.2L968.5 559.3L968.5 555zM977.3 543.8L998.7 543.8L1002 546.2L1002 550.5L991.7 568.4L984.3 568.4L974 550.5L974 546.2zM1012.2 544.8L1033.7 544.8L1037 547.2L1037 551.5L1026.7 569.4L1019.2 569.4L1009 551.5L1009 547.2zM1017.8 537.2L1039.2 537.2L1042.5 539.6L1042.5 543.9L1032.2 561.8L1024.8 561.8L1014.5 543.9L1014.5 539.6zM1052.7 538.2L1074.1 538.2L1077.4 540.6L1077.4 544.9L1067.1 562.8L1059.7 562.8L1049.4 544.9L1049.4 540.6zM1058.2 527.2L1079.6 527.2L1082.9 529.6L1082.9 533.9L1072.6 551.8L1065.2 551.8L1054.9 533.9L1054.9 529.6zM1093.1 528.2L1114.5 528.2L1117.8 530.6L1117.8 534.9L1107.5 552.8L1100.1 552.8L1089.8 534.9L1089.8 530.6zM1101.6 544.1L1123 544.1L1126.3 546.5L1126.3 550.8L1116 568.7L1108.6 568.7L1098.3 550.8L1098.3 546.5zM1133.5 519.2L1154.9 519.2L1158.2 521.6L1158.2 525.9L1147.9 543.8L1140.5 543.8L1130.2 525.9L1130.2 521.6zM1142 543.1L1163.4 543.1L1166.7 545.5L1166.7 549.8L1156.4 567.7L1149 567.7L1138.7 549.8L1138.7 545.5zM1174 512.2L1195.4 512.2L1198.7 514.6L1198.7 518.9L1188.4 536.8L1181 536.8L1170.7 518.9L1170.7 514.6zM1182.5 530.3L1203.9 530.3L1207.2 532.7L1207.2 537L1196.9 554.9L1189.5 554.9L1179.2 537L1179.2 532.7zM1214.4 506.2L1235.8 506.2L1239.1 508.6L1239.1 512.9L1228.8 530.8L1221.4 530.8L1211.1 512.9L1211.1 508.6zM1222.9 522.4L1244.3 522.4L1247.6 524.8L1247.6 529.1L1237.3 547L1229.9 547L1219.6 529.1L1219.6 524.8zM1254.8 500.2L1276.2 500.2L1279.5 502.6L1279.5 506.9L1269.2 524.8L1261.8 524.8L1251.5 506.9L1251.5 502.6zM1263.3 514.4L1284.7 514.4L1288 516.8L1288 521.1L1277.7 539L1270.3 539L1260 521.1L1260 516.8zM1295.3 494.2L1316.7 494.2L1320 496.6L1320 500.9L1309.7 518.8L1302.3 518.8L1292 500.9L1292 496.6zM1303.8 505.3L1325.2 505.3L1328.5 507.7L1328.5 512L1318.2 529.9L1310.8 529.9L1300.5 512L1300.5 507.7zM1335.7 487.2L1357.1 487.2L1360.4 489.6L1360.4 493.9L1350.1 511.8L1342.7 511.8L1332.4 493.9L1332.4 489.6zM1344.2 494.9L1365.6 494.9L1368.9 497.3L1368.9 501.6L1358.6 519.5L1351.2 519.5L1340.9 501.6L1340.9 497.3zM1376.1 482.2L1397.5 482.2L1400.8 484.6L1400.8 488.9L1390.5 506.8L1383.1 506.8L1372.8 488.9L1372.8 484.6zM1384.6 483.9L1406 483.9L1409.3 486.3L1409.3 490.6L1399 508.5L1391.6 508.5L1381.3 490.6L1381.3 486.3zM1416.5 474.4L1438 474.4L1441.2 476.8L1441.2 481.1L1431 499L1423.5 499L1413.2 481.1L1413.2 476.8zM1425 468.7L1446.5 468.7L1449.8 471.1L1449.8 475.4L1439.5 493.3L1432 493.3L1421.8 475.4L1421.8 471.1zM1465.5 454.7L1486.9 454.7L1490.2 457.1L1490.2 461.4L1479.9 479.3L1472.5 479.3L1462.2 461.4L1462.2 457.1zM1505.9 441.7L1527.3 441.7L1530.6 444.1L1530.6 448.4L1520.3 466.3L1512.9 466.3L1502.6 448.4L1502.6 444.1zM1546.3 425L1567.7 425L1571 427.4L1571 431.7L1560.7 449.6L1553.3 449.6L1543 431.7L1543 427.4zM1586.8 409.7L1608.2 409.7L1611.5 412.1L1611.5 416.4L1601.2 434.3L1593.8 434.3L1583.5 416.4L1583.5 412.1zM1627.2 389.2L1648.6 389.2L1651.9 391.6L1651.9 395.9L1641.6 413.8L1634.2 413.8L1623.9 395.9L1623.9 391.6zM1667.6 369.1L1689 369.1L1692.3 371.5L1692.3 375.8L1682 393.7L1674.6 393.7L1664.3 375.8L1664.3 371.5zM1708.1 349L1729.5 349L1732.8 351.4L1732.8 355.7L1722.5 373.6L1715.1 373.6L1704.8 355.7L1704.8 351.4zM1748.5 327.1L1769.9 327.1L1773.2 329.5L1773.2 333.8L1762.9 351.7L1755.5 351.7L1745.2 333.8L1745.2 329.5zM1788.9 304L1810.3 304L1813.6 306.4L1813.6 310.7L1803.3 328.6L1795.9 328.6L1785.6 310.7L1785.6 306.4zM1829.3 280.2L1850.8 280.2L1854 282.6L1854 286.9L1843.8 304.8L1836.3 304.8L1826 286.9L1826 282.6z"/>
</g>
<g fill="#ff8040" stroke="none">
<polyline fill="none" stroke="#ff8040" stroke-width="8.2" points="422,848 462.4,805.9 502.9,766.5 543.3,733.6 583.7,708.6 624.1,692.2 664.6,682.5 699.5,686.5 705,678 739.9,685 745.4,677.4 780.4,685 785.9,677 820.8,685.1 826.3,676.9 861.2,686.4 866.7,676.9 901.7,687.2 907.2,677.8 942.1,687.2 947.6,677.8 982.5,686.4 988,677.8 1023,685 1028.5,678 1063.4,680.8 1068.9,674.9 1103.8,674.9 1109.3,688.7 1112.3,694.2 1144.2,665.8 1152.7,682 1184.7,653.6 1193.2,664.9 1225.1,637 1233.6,647.9 1265.5,618.4 1274,627.9 1306,597.1 1314.5,606 1346.4,574 1354.9,579.8 1386.8,547.8 1395.3,554.2 1427.2,521 1435.8,525.6 1476.2,496 1516.6,468 1557,438.5 1597.5,404.8 1637.9,376.2 1678.3,344 1718.8,311.2 1759.2,276.8 1799.6,241.9 1840,205.3"/>
<path d="M411.9 834.2L433.1 834.2L434.7 835.8L434.7 857.2L433.1 858.8L410.9 858.8L409.3 857.2L409.3 836.8zM416.1 842.2V852.9H428V842.2zM452.3 792.1L473.5 792.1L475.1 793.7L475.1 815.1L473.5 816.7L451.3 816.7L449.7 815.1L449.7 794.7zM456.5 800.1V810.8H468.4V800.1zM492.8 752.7L514 752.7L515.6 754.3L515.6 775.7L514 777.3L491.8 777.3L490.2 775.7L490.2 755.3zM497 760.7V771.4H508.9V760.7zM533.2 719.8L554.4 719.8L556 721.4L556 742.8L554.4 744.4L532.2 744.4L530.6 742.8L530.6 722.4zM537.4 727.8V738.5H549.3V727.8zM573.6 694.8L594.8 694.8L596.4 696.4L596.4 717.8L594.8 719.4L572.6 719.4L571 717.8L571 697.4zM577.8 702.8V713.5H589.7V702.8zM614 678.4L635.2 678.4L636.9 680L636.9 701.4L635.2 703L613 703L611.4 701.4L611.4 681zM618.2 686.4V697.1H630.1V686.4zM654.5 668.7L675.7 668.7L677.3 670.3L677.3 691.7L675.7 693.3L653.5 693.3L651.9 691.7L651.9 671.3zM658.7 676.7V687.4H670.6V676.7zM689.4 672.7L710.6 672.7L712.2 674.3L712.2 695.7L710.6 697.3L688.4 697.3L686.8 695.7L686.8 675.3zM693.6 680.7V691.4H705.5V680.7zM694.9 664.2L716.1 664.2L717.7 665.8L717.7 687.2L716.1 688.8L693.9 688.8L692.3 687.2L692.3 666.8zM699.1 672.2V682.9H711V672.2zM729.8 671.2L751 671.2L752.6 672.8L752.6 694.2L751 695.8L728.8 695.8L727.2 694.2L727.2 673.8zM734 679.2V689.9H745.9V679.2zM735.3 663.6L756.5 663.6L758.1 665.2L758.1 686.6L756.5 688.2L734.3 688.2L732.7 686.6L732.7 666.2zM739.5 671.6V682.3H751.4V671.6zM770.3 671.2L791.5 671.2L793.1 672.8L793.1 694.2L791.5 695.8L769.3 695.8L767.7 694.2L767.7 673.8zM774.5 679.2V689.9H786.4V679.2zM775.8 663.2L797 663.2L798.6 664.8L798.6 686.2L797 687.8L774.8 687.8L773.2 686.2L773.2 665.8zM780 671.2V681.9H791.9V671.2zM810.7 671.3L831.9 671.3L833.5 672.9L833.5 694.3L831.9 695.9L809.7 695.9L808.1 694.3L808.1 673.9zM814.9 679.3V690H826.8V679.3zM816.2 663.1L837.4 663.1L839 664.7L839 686.1L837.4 687.7L815.2 687.7L813.6 686.1L813.6 665.7zM820.4 671.1V681.8H832.3V671.1zM851.1 672.6L872.3 672.6L873.9 674.2L873.9 695.6L872.3 697.2L850.1 697.2L848.5 695.6L848.5 675.2zM855.3 680.6V691.3H867.2V680.6zM856.6 663.1L877.8 663.1L879.4 664.7L879.4 686.1L877.8 687.7L855.6 687.7L854 686.1L854 665.7zM860.8 671.1V681.8H872.7V671.1zM891.6 673.4L912.8 673.4L914.4 675L914.4 696.4L912.8 698L890.6 698L889 696.4L889 676zM895.8 681.4V692.1H907.7V681.4zM897.1 664L918.3 664L919.9 665.6L919.9 687L918.3 688.6L896.1 688.6L894.5 687L894.5 666.6zM901.3 672V682.7H913.2V672zM932 673.4L953.2 673.4L954.8 675L954.8 696.4L953.2 698L931 698L929.4 696.4L929.4 676zM936.2 681.4V692.1H948.1V681.4zM937.5 664L958.7 664L960.3 665.6L960.3 687L958.7 688.6L936.5 688.6L934.9 687L934.9 666.6zM941.7 672V682.7H953.6V672zM972.4 672.6L993.6 672.6L995.2 674.2L995.2 695.6L993.6 697.2L971.4 697.2L969.8 695.6L969.8 675.2zM976.6 680.6V691.3H988.5V680.6zM977.9 664L999.1 664L1000.7 665.6L1000.7 687L999.1 688.6L976.9 688.6L975.3 687L975.3 666.6zM982.1 672V682.7H994V672zM1012.9 671.2L1034.1 671.2L1035.7 672.8L1035.7 694.2L1034.1 695.8L1011.9 695.8L1010.2 694.2L1010.2 673.8zM1017 679.2V689.9H1029V679.2zM1018.4 664.2L1039.6 664.2L1041.2 665.8L1041.2 687.2L1039.6 688.8L1017.4 688.8L1015.8 687.2L1015.8 666.8zM1022.5 672.2V682.9H1034.5V672.2zM1053.3 667L1074.5 667L1076.1 668.6L1076.1 690L1074.5 691.6L1052.3 691.6L1050.7 690L1050.7 669.6zM1057.5 675V685.7H1069.4V675zM1058.8 661.1L1080 661.1L1081.6 662.7L1081.6 684.1L1080 685.7L1057.8 685.7L1056.2 684.1L1056.2 663.7zM1063 669.1V679.8H1074.9V669.1zM1093.7 661.1L1114.9 661.1L1116.5 662.7L1116.5 684.1L1114.9 685.7L1092.7 685.7L1091.1 684.1L1091.1 663.7zM1097.9 669.1V679.8H1109.8V669.1zM1099.2 674.9L1120.4 674.9L1122 676.5L1122 697.9L1120.4 699.5L1098.2 699.5L1096.6 697.9L1096.6 677.5zM1103.4 682.9V693.6H1115.3V682.9zM1102.2 680.4L1123.4 680.4L1125 682L1125 703.4L1123.4 705L1101.2 705L1099.6 703.4L1099.6 683zM1106.4 688.4V699.1H1118.3V688.4zM1134.1 652L1155.3 652L1156.9 653.6L1156.9 675L1155.3 676.6L1133.1 676.6L1131.5 675L1131.5 654.6zM1138.3 660V670.7H1150.2V660zM1142.6 668.2L1163.8 668.2L1165.4 669.8L1165.4 691.2L1163.8 692.8L1141.6 692.8L1140 691.2L1140 670.8zM1146.8 676.2V686.9H1158.7V676.2zM1174.6 639.8L1195.8 639.8L1197.4 641.4L1197.4 662.8L1195.8 664.4L1173.6 664.4L1172 662.8L1172 642.4zM1178.8 647.8V658.5H1190.7V647.8zM1183.1 651.1L1204.3 651.1L1205.9 652.7L1205.9 674.1L1204.3 675.7L1182.1 675.7L1180.5 674.1L1180.5 653.7zM1187.3 659.1V669.8H1199.2V659.1zM1215 623.2L1236.2 623.2L1237.8 624.8L1237.8 646.2L1236.2 647.8L1214 647.8L1212.4 646.2L1212.4 625.8zM1219.2 631.2V641.9H1231.1V631.2zM1223.5 634.1L1244.7 634.1L1246.3 635.7L1246.3 657.1L1244.7 658.7L1222.5 658.7L1220.9 657.1L1220.9 636.7zM1227.7 642.1V652.8H1239.6V642.1zM1255.4 604.6L1276.6 604.6L1278.2 606.2L1278.2 627.6L1276.6 629.2L1254.4 629.2L1252.8 627.6L1252.8 607.2zM1259.6 612.6V623.3H1271.5V612.6zM1263.9 614.1L1285.1 614.1L1286.7 615.7L1286.7 637.1L1285.1 638.7L1262.9 638.7L1261.3 637.1L1261.3 616.7zM1268.1 622.1V632.8H1280V622.1zM1295.9 583.3L1317.1 583.3L1318.7 584.9L1318.7 606.3L1317.1 607.9L1294.9 607.9L1293.3 606.3L1293.3 585.9zM1300.1 591.3V602H1312V591.3zM1304.4 592.2L1325.6 592.2L1327.2 593.8L1327.2 615.2L1325.6 616.8L1303.4 616.8L1301.8 615.2L1301.8 594.8zM1308.6 600.2V610.9H1320.5V600.2zM1336.3 560.2L1357.5 560.2L1359.1 561.8L1359.1 583.2L1357.5 584.8L1335.3 584.8L1333.7 583.2L1333.7 562.8zM1340.5 568.2V578.9H1352.4V568.2zM1344.8 566L1366 566L1367.6 567.6L1367.6 589L1366 590.6L1343.8 590.6L1342.2 589L1342.2 568.6zM1349 574V584.7H1360.9V574zM1376.7 534L1397.9 534L1399.5 535.6L1399.5 557L1397.9 558.6L1375.7 558.6L1374.1 557L1374.1 536.6zM1380.9 542V552.7H1392.8V542zM1385.2 540.4L1406.4 540.4L1408 542L1408 563.4L1406.4 565L1384.2 565L1382.6 563.4L1382.6 543zM1389.4 548.4V559.1H1401.3V548.4zM1417.1 507.2L1438.4 507.2L1440 508.8L1440 530.2L1438.4 531.8L1416.1 531.8L1414.5 530.2L1414.5 509.8zM1421.3 515.2V525.9H1433.2V515.2zM1425.6 511.8L1446.9 511.8L1448.5 513.4L1448.5 534.8L1446.9 536.4L1424.6 536.4L1423 534.8L1423 514.4zM1429.8 519.8V530.5H1441.8V519.8zM1466.1 482.2L1487.3 482.2L1488.9 483.8L1488.9 505.2L1487.3 506.8L1465.1 506.8L1463.5 505.2L1463.5 484.8zM1470.3 490.2V500.9H1482.2V490.2zM1506.5 454.2L1527.7 454.2L1529.3 455.8L1529.3 477.2L1527.7 478.8L1505.5 478.8L1503.9 477.2L1503.9 456.8zM1510.7 462.2V472.9H1522.6V462.2zM1546.9 424.7L1568.1 424.7L1569.7 426.3L1569.7 447.7L1568.1 449.3L1545.9 449.3L1544.3 447.7L1544.3 427.3zM1551.1 432.7V443.4H1563V432.7zM1587.4 391L1608.6 391L1610.2 392.6L1610.2 414L1608.6 415.6L1586.4 415.6L1584.8 414L1584.8 393.6zM1591.6 399V409.7H1603.5V399zM1627.8 362.4L1649 362.4L1650.6 364L1650.6 385.4L1649 387L1626.8 387L1625.2 385.4L1625.2 365zM1632 370.4V381.1H1643.9V370.4zM1668.2 330.2L1689.4 330.2L1691 331.8L1691 353.2L1689.4 354.8L1667.2 354.8L1665.6 353.2L1665.6 332.8zM1672.4 338.2V348.9H1684.3V338.2zM1708.7 297.4L1729.9 297.4L1731.5 299L1731.5 320.4L1729.9 322L1707.7 322L1706.1 320.4L1706.1 300zM1712.9 305.4V316.1H1724.8V305.4zM1749.1 263L1770.3 263L1771.9 264.6L1771.9 286L1770.3 287.6L1748.1 287.6L1746.5 286L1746.5 265.6zM1753.3 271V281.7H1765.2V271zM1789.5 228.1L1810.7 228.1L1812.3 229.7L1812.3 251.1L1810.7 252.7L1788.5 252.7L1786.9 251.1L1786.9 230.7zM1793.7 236.1V246.8H1805.6V236.1zM1829.9 191.5L1851.2 191.5L1852.8 193.1L1852.8 214.5L1851.2 216.1L1828.9 216.1L1827.3 214.5L1827.3 194.1zM1834.1 199.5V210.2H1846V199.5z"/>
<polyline fill="none" stroke="#ff8040" stroke-width="8.2" points="422,1079.4 462.4,990.1 502.9,907.2 543.3,833.9 583.7,773.3 624.1,722.2 664.6,683.2 699.5,653.1 705,650.6 739.9,631 745.4,628.5 780.4,612.7 785.9,610.2 820.8,595.9 826.3,593.4 861.2,583 866.7,580.5 901.7,571.4 907.2,568.9 942.1,561 947.6,558.5 982.5,551.3 988,548.8 1023,541.5 1028.5,539 1063.4,533.5 1068.9,531 1103.8,526.2 1112.3,544.2 1144.2,519.5 1152.7,537.5 1184.7,512.8 1193.2,530.8 1225.1,506.7 1233.6,522.3 1265.5,500.6 1274,517.4 1306,494.5 1314.5,508.9 1346.4,488.4 1354.9,499.7 1386.8,486.5 1395.3,486.3 1427.2,491.1 1435.8,476.8 1476.2,463.3 1516.6,450.6 1557,434.7 1597.5,420.5 1637.9,401.2 1678.3,383.1 1718.8,364.2 1759.2,344.1 1799.6,322.8 1840,303.9"/>
<path d="M411.3 1069.1L432.7 1069.1L436 1071.5L436 1075.8L425.7 1093.7L418.3 1093.7L408 1075.8L408 1071.5zM451.7 979.8L473.1 979.8L476.4 982.2L476.4 986.5L466.1 1004.4L458.7 1004.4L448.4 986.5L448.4 982.2zM492.2 896.9L513.6 896.9L516.9 899.3L516.9 903.6L506.6 921.5L499.2 921.5L488.9 903.6L488.9 899.3zM532.6 823.6L554 823.6L557.3 826L557.3 830.3L547 848.2L539.6 848.2L529.3 830.3L529.3 826zM573 763L594.4 763L597.7 765.4L597.7 769.7L587.4 787.6L580 787.6L569.7 769.7L569.7 765.4zM613.4 711.9L634.9 711.9L638.1 714.3L638.1 718.6L627.9 736.5L620.4 736.5L610.1 718.6L610.1 714.3zM653.9 672.9L675.3 672.9L678.6 675.3L678.6 679.6L668.3 697.5L660.9 697.5L650.6 679.6L650.6 675.3zM688.8 642.8L710.2 642.8L713.5 645.2L713.5 649.5L703.2 667.4L695.8 667.4L685.5 649.5L685.5 645.2zM694.3 640.3L715.7 640.3L719 642.7L719 647L708.7 664.9L701.3 664.9L691 647L691 642.7zM729.2 620.7L750.6 620.7L753.9 623.1L753.9 627.4L743.6 645.3L736.2 645.3L725.9 627.4L725.9 623.1zM734.7 618.2L756.1 618.2L759.4 620.6L759.4 624.9L749.1 642.8L741.7 642.8L731.4 624.9L731.4 620.6zM769.7 602.4L791.1 602.4L794.4 604.8L794.4 609.1L784.1 627L776.7 627L766.4 609.1L766.4 604.8zM775.2 599.9L796.6 599.9L799.9 602.3L799.9 606.6L789.6 624.5L782.2 624.5L771.9 606.6L771.9 602.3zM810.1 585.6L831.5 585.6L834.8 588L834.8 592.3L824.5 610.2L817.1 610.2L806.8 592.3L806.8 588zM815.6 583.1L837 583.1L840.3 585.5L840.3 589.8L830 607.7L822.6 607.7L812.3 589.8L812.3 585.5zM850.5 572.7L871.9 572.7L875.2 575.1L875.2 579.4L864.9 597.3L857.5 597.3L847.2 579.4L847.2 575.1zM856 570.2L877.4 570.2L880.7 572.6L880.7 576.9L870.4 594.8L863 594.8L852.7 576.9L852.7 572.6zM891 561.1L912.4 561.1L915.7 563.5L915.7 567.8L905.4 585.7L898 585.7L887.7 567.8L887.7 563.5zM896.5 558.6L917.9 558.6L921.2 561L921.2 565.3L910.9 583.2L903.5 583.2L893.2 565.3L893.2 561zM931.4 550.7L952.8 550.7L956.1 553.1L956.1 557.4L945.8 575.3L938.4 575.3L928.1 557.4L928.1 553.1zM936.9 548.2L958.3 548.2L961.6 550.6L961.6 554.9L951.3 572.8L943.9 572.8L933.6 554.9L933.6 550.6zM971.8 541L993.2 541L996.5 543.4L996.5 547.7L986.2 565.6L978.8 565.6L968.5 547.7L968.5 543.4zM977.3 538.5L998.7 538.5L1002 540.9L1002 545.2L991.7 563.1L984.3 563.1L974 545.2L974 540.9zM1012.2 531.2L1033.7 531.2L1037 533.6L1037 537.9L1026.7 555.8L1019.2 555.8L1009 537.9L1009 533.6zM1017.8 528.7L1039.2 528.7L1042.5 531.1L1042.5 535.4L1032.2 553.3L1024.8 553.3L1014.5 535.4L1014.5 531.1zM1052.7 523.2L1074.1 523.2L1077.4 525.6L1077.4 529.9L1067.1 547.8L1059.7 547.8L1049.4 529.9L1049.4 525.6zM1058.2 520.7L1079.6 520.7L1082.9 523.1L1082.9 527.4L1072.6 545.3L1065.2 545.3L1054.9 527.4L1054.9 523.1zM1093.1 515.9L1114.5 515.9L1117.8 518.3L1117.8 522.6L1107.5 540.5L1100.1 540.5L1089.8 522.6L1089.8 518.3zM1101.6 533.9L1123 533.9L1126.3 536.3L1126.3 540.6L1116 558.5L1108.6 558.5L1098.3 540.6L1098.3 536.3zM1133.5 509.2L1154.9 509.2L1158.2 511.6L1158.2 515.9L1147.9 533.8L1140.5 533.8L1130.2 515.9L1130.2 511.6zM1142 527.2L1163.4 527.2L1166.7 529.6L1166.7 533.9L1156.4 551.8L1149 551.8L1138.7 533.9L1138.7 529.6zM1174 502.5L1195.4 502.5L1198.7 504.9L1198.7 509.2L1188.4 527.1L1181 527.1L1170.7 509.2L1170.7 504.9zM1182.5 520.5L1203.9 520.5L1207.2 522.9L1207.2 527.2L1196.9 545.1L1189.5 545.1L1179.2 527.2L1179.2 522.9zM1214.4 496.4L1235.8 496.4L1239.1 498.8L1239.1 503.1L1228.8 521L1221.4 521L1211.1 503.1L1211.1 498.8zM1222.9 512L1244.3 512L1247.6 514.4L1247.6 518.7L1237.3 536.6L1229.9 536.6L1219.6 518.7L1219.6 514.4zM1254.8 490.3L1276.2 490.3L1279.5 492.7L1279.5 497L1269.2 514.9L1261.8 514.9L1251.5 497L1251.5 492.7zM1263.3 507.1L1284.7 507.1L1288 509.5L1288 513.8L1277.7 531.7L1270.3 531.7L1260 513.8L1260 509.5zM1295.3 484.2L1316.7 484.2L1320 486.6L1320 490.9L1309.7 508.8L1302.3 508.8L1292 490.9L1292 486.6zM1303.8 498.6L1325.2 498.6L1328.5 501L1328.5 505.3L1318.2 523.2L1310.8 523.2L1300.5 505.3L1300.5 501zM1335.7 478.1L1357.1 478.1L1360.4 480.5L1360.4 484.8L1350.1 502.7L1342.7 502.7L1332.4 484.8L1332.4 480.5zM1344.2 489.4L1365.6 489.4L1368.9 491.8L1368.9 496.1L1358.6 514L1351.2 514L1340.9 496.1L1340.9 491.8zM1376.1 476.2L1397.5 476.2L1400.8 478.6L1400.8 482.9L1390.5 500.8L1383.1 500.8L1372.8 482.9L1372.8 478.6zM1384.6 476L1406 476L1409.3 478.4L1409.3 482.7L1399 500.6L1391.6 500.6L1381.3 482.7L1381.3 478.4zM1416.5 480.8L1438 480.8L1441.2 483.2L1441.2 487.5L1431 505.4L1423.5 505.4L1413.2 487.5L1413.2 483.2zM1425 466.5L1446.5 466.5L1449.8 468.9L1449.8 473.2L1439.5 491.1L1432 491.1L1421.8 473.2L1421.8 468.9zM1465.5 453L1486.9 453L1490.2 455.4L1490.2 459.7L1479.9 477.6L1472.5 477.6L1462.2 459.7L1462.2 455.4zM1505.9 440.3L1527.3 440.3L1530.6 442.7L1530.6 447L1520.3 464.9L1512.9 464.9L1502.6 447L1502.6 442.7zM1546.3 424.4L1567.7 424.4L1571 426.8L1571 431.1L1560.7 449L1553.3 449L1543 431.1L1543 426.8zM1586.8 410.2L1608.2 410.2L1611.5 412.6L1611.5 416.9L1601.2 434.8L1593.8 434.8L1583.5 416.9L1583.5 412.6zM1627.2 390.9L1648.6 390.9L1651.9 393.3L1651.9 397.6L1641.6 415.5L1634.2 415.5L1623.9 397.6L1623.9 393.3zM1667.6 372.8L1689 372.8L1692.3 375.2L1692.3 379.5L1682 397.4L1674.6 397.4L1664.3 379.5L1664.3 375.2zM1708.1 353.9L1729.5 353.9L1732.8 356.3L1732.8 360.6L1722.5 378.5L1715.1 378.5L1704.8 360.6L1704.8 356.3zM1748.5 333.8L1769.9 333.8L1773.2 336.2L1773.2 340.5L1762.9 358.4L1755.5 358.4L1745.2 340.5L1745.2 336.2zM1788.9 312.5L1810.3 312.5L1813.6 314.9L1813.6 319.2L1803.3 337.1L1795.9 337.1L1785.6 319.2L1785.6 314.9zM1829.3 293.6L1850.8 293.6L1854 296L1854 300.3L1843.8 318.2L1836.3 318.2L1826 300.3L1826 296z"/>
</g>
</g>
<g stroke="#000" fill="none" shape-rendering="crispEdges">
<rect x="330.4" y="45.5" width="1581.9" height="1135.8" stroke-width="10.8" stroke-linejoin="round"/>
<path stroke-width="8.0" stroke-linecap="round" d="M456.9 1181.3v-22.6M456.9 45.5v22.6M699.5 1181.3v-22.6M699.5 45.5v22.6M942.1 1181.3v-22.6M942.1 45.5v22.6M1184.6 1181.3v-22.6M1184.6 45.5v22.6M1427.2 1181.3v-22.6M1427.2 45.5v22.6M1669.8 1181.3v-22.6M1669.8 45.5v22.6M330.4 897.3h22.6M1912.3 897.3h-22.6M330.4 613.4h22.6M1912.3 613.4h-22.6M330.4 329.4h22.6M1912.3 329.4h-22.6"/>
<path stroke-width="7.2" stroke-linecap="round" d="M360.4 1181.3v-15.8M360.4 45.5v15.8M383.9 1181.3v-15.8M383.9 45.5v15.8M403.1 1181.3v-15.8M403.1 45.5v15.8M419.4 1181.3v-15.8M419.4 45.5v15.8M433.4 1181.3v-15.8M433.4 45.5v15.8M445.9 1181.3v-15.8M445.9 45.5v15.8M530 1181.3v-15.8M530 45.5v15.8M572.7 1181.3v-15.8M572.7 45.5v15.8M603 1181.3v-15.8M603 45.5v15.8M626.5 1181.3v-15.8M626.5 45.5v15.8M645.7 1181.3v-15.8M645.7 45.5v15.8M661.9 1181.3v-15.8M661.9 45.5v15.8M676 1181.3v-15.8M676 45.5v15.8M688.4 1181.3v-15.8M688.4 45.5v15.8M772.5 1181.3v-15.8M772.5 45.5v15.8M815.3 1181.3v-15.8M815.3 45.5v15.8M845.6 1181.3v-15.8M845.6 45.5v15.8M869.1 1181.3v-15.8M869.1 45.5v15.8M888.3 1181.3v-15.8M888.3 45.5v15.8M904.5 1181.3v-15.8M904.5 45.5v15.8M918.6 1181.3v-15.8M918.6 45.5v15.8M931 1181.3v-15.8M931 45.5v15.8M1015.1 1181.3v-15.8M1015.1 45.5v15.8M1057.8 1181.3v-15.8M1057.8 45.5v15.8M1088.1 1181.3v-15.8M1088.1 45.5v15.8M1111.6 1181.3v-15.8M1111.6 45.5v15.8M1130.8 1181.3v-15.8M1130.8 45.5v15.8M1147.1 1181.3v-15.8M1147.1 45.5v15.8M1161.1 1181.3v-15.8M1161.1 45.5v15.8M1173.6 1181.3v-15.8M1173.6 45.5v15.8M1257.7 1181.3v-15.8M1257.7 45.5v15.8M1300.4 1181.3v-15.8M1300.4 45.5v15.8M1330.7 1181.3v-15.8M1330.7 45.5v15.8M1354.2 1181.3v-15.8M1354.2 45.5v15.8M1373.4 1181.3v-15.8M1373.4 45.5v15.8M1389.6 1181.3v-15.8M1389.6 45.5v15.8M1403.7 1181.3v-15.8M1403.7 45.5v15.8M1416.1 1181.3v-15.8M1416.1 45.5v15.8M1500.2 1181.3v-15.8M1500.2 45.5v15.8M1543 1181.3v-15.8M1543 45.5v15.8M1573.3 1181.3v-15.8M1573.3 45.5v15.8M1596.8 1181.3v-15.8M1596.8 45.5v15.8M1616 1181.3v-15.8M1616 45.5v15.8M1632.2 1181.3v-15.8M1632.2 45.5v15.8M1646.3 1181.3v-15.8M1646.3 45.5v15.8M1658.7 1181.3v-15.8M1658.7 45.5v15.8M1742.8 1181.3v-15.8M1742.8 45.5v15.8M1785.5 1181.3v-15.8M1785.5 45.5v15.8M1815.8 1181.3v-15.8M1815.8 45.5v15.8M1839.3 1181.3v-15.8M1839.3 45.5v15.8M1858.5 1181.3v-15.8M1858.5 45.5v15.8M1874.8 1181.3v-15.8M1874.8 45.5v15.8M1888.8 1181.3v-15.8M1888.8 45.5v15.8M1901.3 1181.3v-15.8M1901.3 45.5v15.8"/>
<path stroke-width="8.0" stroke-linecap="round" d="M330.4 1095.8h15.8M1912.3 1095.8h-15.8M330.4 1045.8h15.8M1912.3 1045.8h-15.8M330.4 1010.3h15.8M1912.3 1010.3h-15.8M330.4 982.8h15.8M1912.3 982.8h-15.8M330.4 960.3h15.8M1912.3 960.3h-15.8M330.4 941.3h15.8M1912.3 941.3h-15.8M330.4 924.9h15.8M1912.3 924.9h-15.8M330.4 910.3h15.8M1912.3 910.3h-15.8M330.4 811.9h15.8M1912.3 811.9h-15.8M330.4 761.9h15.8M1912.3 761.9h-15.8M330.4 726.4h15.8M1912.3 726.4h-15.8M330.4 698.9h15.8M1912.3 698.9h-15.8M330.4 676.4h15.8M1912.3 676.4h-15.8M330.4 657.4h15.8M1912.3 657.4h-15.8M330.4 640.9h15.8M1912.3 640.9h-15.8M330.4 626.4h15.8M1912.3 626.4h-15.8M330.4 527.9h15.8M1912.3 527.9h-15.8M330.4 477.9h15.8M1912.3 477.9h-15.8M330.4 442.4h15.8M1912.3 442.4h-15.8M330.4 414.9h15.8M1912.3 414.9h-15.8M330.4 392.4h15.8M1912.3 392.4h-15.8M330.4 373.4h15.8M1912.3 373.4h-15.8M330.4 356.9h15.8M1912.3 356.9h-15.8M330.4 342.4h15.8M1912.3 342.4h-15.8M330.4 243.9h15.8M1912.3 243.9h-15.8M330.4 193.9h15.8M1912.3 193.9h-15.8M330.4 158.5h15.8M1912.3 158.5h-15.8M330.4 130.9h15.8M1912.3 130.9h-15.8M330.4 108.4h15.8M1912.3 108.4h-15.8M330.4 89.4h15.8M1912.3 89.4h-15.8M330.4 73h15.8M1912.3 73h-15.8M330.4 58.4h15.8M1912.3 58.4h-15.8"/>
</g>
<defs><filter id="bw" filterUnits="userSpaceOnUse" x="0" y="0" width="1970" height="1479"><feComponentTransfer><feFuncA type="discrete" tableValues="0 1"/></feComponentTransfer></filter></defs>
<g filter="url(#bw)">
<g font-size="62.5">
<text transform="translate(456.9 1268.3) scale(1 1.045)" text-anchor="middle">10<tspan font-size="40.2" dy="-19.2">-2</tspan></text>
<text transform="translate(699.5 1268.3) scale(1 1.045)" text-anchor="middle">10<tspan font-size="40.2" dy="-19.2">-1</tspan></text>
<text transform="translate(942.1 1268.3) scale(1 1.045)" text-anchor="middle">10<tspan font-size="40.2" dy="-19.2">0</tspan></text>
<text transform="translate(1184.6 1268.3) scale(1 1.045)" text-anchor="middle">10<tspan font-size="40.2" dy="-19.2">1</tspan></text>
<text transform="translate(1427.2 1268.3) scale(1 1.045)" text-anchor="middle">10<tspan font-size="40.2" dy="-19.2">2</tspan></text>
<text transform="translate(1669.8 1268.3) scale(1 1.045)" text-anchor="middle">10<tspan font-size="40.2" dy="-19.2">3</tspan></text>
<text transform="translate(1912.3 1268.3) scale(1 1.045)" text-anchor="middle">10<tspan font-size="40.2" dy="-19.2">4</tspan></text>
<text transform="translate(298.6 1201.8) scale(1 1.045)" text-anchor="end">10<tspan font-size="40.2" dy="-19.2">3</tspan></text>
<text transform="translate(298.6 917.8) scale(1 1.045)" text-anchor="end">10<tspan font-size="40.2" dy="-19.2">4</tspan></text>
<text transform="translate(298.6 633.8) scale(1 1.045)" text-anchor="end">10<tspan font-size="40.2" dy="-19.2">5</tspan></text>
<text transform="translate(298.6 349.9) scale(1 1.045)" text-anchor="end">10<tspan font-size="40.2" dy="-19.2">6</tspan></text>
<text transform="translate(298.6 65.9) scale(1 1.045)" text-anchor="end">10<tspan font-size="40.2" dy="-19.2">7</tspan></text>
</g>
<text x="850.3" y="1429.5" font-size="117.5" class="om" stroke="#000" stroke-width="1.3">ω</text>
<text x="924" y="1434.9" font-size="93" class="om">·</text>
<text x="949" y="1429.5" font-size="107.7">a</text>
<text x="1008" y="1463.6" font-size="71">T</text>
<text x="1082.5" y="1429.5" font-size="107.9">(rad/s)</text>
<g transform="translate(110.6 1120) rotate(-90)">
<text x="-2" y="0" font-size="107.7">G'</text>
<text x="97" y="0" font-size="107.7" class="om">·</text>
<text x="132.3" y="0" font-size="107.7">b</text>
<text x="190.3" y="34.1" font-size="71">T</text>
<text x="265" y="0" font-size="107.7">(Pa</text>
<text x="436" y="0" font-size="107.7">)</text>
<text x="467" y="0" font-size="107.7">,</text>
<text x="526" y="0" font-size="107.7">G''</text>
<text x="638.3" y="0" font-size="107.7" class="om">·</text>
<text x="680.2" y="0" font-size="107.7">b</text>
<text x="738.2" y="34.1" font-size="71">T</text>
<text x="812.4" y="0" font-size="107.7">(Pa</text>
<text x="984" y="0" font-size="107.7">)</text>
</g>
</g>
</svg></body></html>
